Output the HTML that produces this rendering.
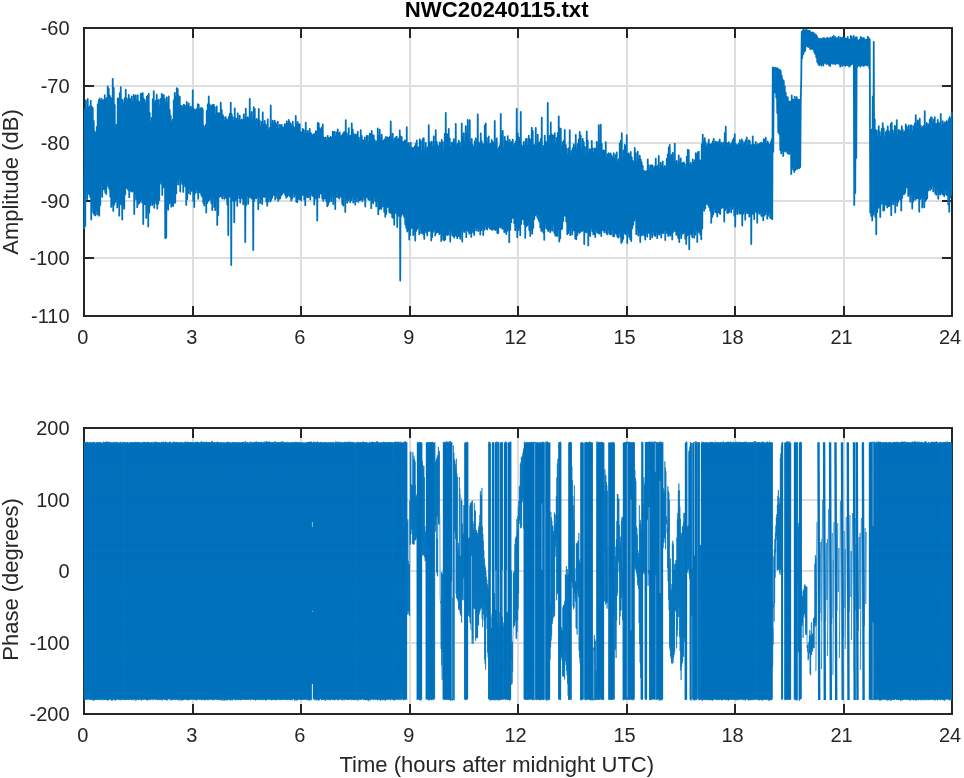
<!DOCTYPE html>
<html><head><meta charset="utf-8"><title>NWC20240115.txt</title>
<style>html,body{margin:0;padding:0;background:#fff}svg{display:block}</style></head>
<body>
<svg width="964" height="778" viewBox="0 0 964 778" font-family="'Liberation Sans', Arial, sans-serif" fill="#262626">
<rect width="964" height="778" fill="#fff"/>
<path d="M193 28V316M301 28V316M410 28V316M518 28V316M627 28V316M735 28V316M844 28V316M84 86H952M84 143H952M84 201H952M84 258H952" stroke="#dedede" stroke-width="2" fill="none"/>
<path d="M84 28H952V316H84ZM193 316v-10M193 28v10M301 316v-10M301 28v10M410 316v-10M410 28v10M518 316v-10M518 28v10M627 316v-10M627 28v10M735 316v-10M735 28v10M844 316v-10M844 28v10M84 86h10M952 86h-10M84 143h10M952 143h-10M84 201h10M952 201h-10M84 258h10M952 258h-10" stroke="#262626" stroke-width="2" fill="none"/>
<path d="M84.25 229.0L84.75 109.6L85.25 225.9L85.75 100.3L86.25 190.0L86.75 111.5L87.25 199.0L87.75 98.9L88.25 193.2L88.75 108.3L89.25 194.3L89.75 106.5L90.25 197.1L90.75 100.7L91.25 219.5L91.75 106.6L92.25 207.3L92.75 107.8L93.25 212.6L93.75 121.2L94.25 214.5L94.75 131.7L95.25 215.4L95.75 134.3L96.25 210.5L96.75 126.9L97.25 214.6L97.75 104.4L98.25 214.2L98.75 100.2L99.25 215.7L99.75 98.5L100.25 205.0L100.75 101.6L101.25 182.2L101.75 99.0L102.25 196.8L102.75 100.8L103.25 189.2L103.75 100.2L104.25 189.0L104.75 95.2L105.25 192.4L105.75 100.1L106.25 194.0L106.75 98.2L107.25 182.6L107.75 86.4L108.25 186.6L108.75 88.7L109.25 188.8L109.75 95.6L110.25 196.6L110.75 97.7L111.25 206.9L111.75 100.1L112.25 203.6L112.75 78.8L113.25 210.9L113.75 87.9L114.25 204.7L114.75 104.9L115.25 202.1L115.75 129.4L116.25 199.2L116.75 124.4L117.25 207.4L117.75 98.5L118.25 203.4L118.75 98.9L119.25 215.7L119.75 93.2L120.25 203.2L120.75 87.1L121.25 204.5L121.75 99.6L122.25 219.5L122.75 100.2L123.25 206.7L123.75 104.2L124.25 208.7L124.75 98.2L125.25 194.4L125.75 89.6L126.25 187.0L126.75 98.6L127.25 188.3L127.75 101.6L128.25 190.1L128.75 94.9L129.25 197.2L129.75 99.2L130.25 189.9L130.75 99.2L131.25 191.3L131.75 96.3L132.25 191.6L132.75 102.4L133.25 190.2L133.75 95.0L134.25 214.0L134.75 97.1L135.25 193.1L135.75 95.5L136.25 199.7L136.75 101.7L137.25 207.2L137.75 95.1L138.25 204.1L138.75 101.6L139.25 203.1L139.75 102.9L140.25 201.7L140.75 93.8L141.25 199.3L141.75 93.6L142.25 202.7L142.75 93.1L143.25 224.0L143.75 98.7L144.25 204.2L144.75 100.4L145.25 204.1L145.75 104.7L146.25 217.9L146.75 96.7L147.25 209.3L147.75 95.8L148.25 226.6L148.75 93.7L149.25 212.7L149.75 113.2L150.25 205.4L150.75 122.0L151.25 201.8L151.75 118.0L152.25 205.0L152.75 99.4L153.25 202.3L153.75 91.1L154.25 207.8L154.75 103.8L155.25 200.2L155.75 100.8L156.25 203.5L156.75 94.7L157.25 208.6L157.75 101.3L158.25 203.6L158.75 99.7L159.25 200.0L159.75 106.0L160.25 181.6L160.75 98.8L161.25 183.7L161.75 93.8L162.25 194.9L162.75 96.4L163.25 187.4L163.75 95.0L164.25 184.5L164.75 98.9L165.25 238.0L165.75 102.9L166.25 237.6L166.75 97.5L167.25 206.4L167.75 103.2L168.25 209.7L168.75 96.3L169.25 203.3L169.75 110.2L170.25 202.8L170.75 116.0L171.25 206.7L171.75 123.2L172.25 205.5L172.75 119.8L173.25 205.9L173.75 100.3L174.25 202.6L174.75 92.9L175.25 202.7L175.75 97.6L176.25 193.3L176.75 88.1L177.25 179.6L177.75 89.1L178.25 184.6L178.75 96.1L179.25 177.3L179.75 96.6L180.25 191.6L180.75 106.3L181.25 180.8L181.75 105.8L182.25 183.9L182.75 108.2L183.25 191.9L183.75 104.6L184.25 183.9L184.75 105.5L185.25 186.6L185.75 107.7L186.25 205.0L186.75 102.0L187.25 199.2L187.75 105.8L188.25 193.2L188.75 103.3L189.25 188.4L189.75 108.5L190.25 194.1L190.75 106.7L191.25 190.9L191.75 109.8L192.25 190.6L192.75 90.5L193.25 200.9L193.75 109.4L194.25 207.0L194.75 109.3L195.25 193.0L195.75 111.3L196.25 189.0L196.75 109.2L197.25 192.5L197.75 104.1L198.25 198.8L198.75 105.0L199.25 192.0L199.75 110.6L200.25 192.3L200.75 108.2L201.25 195.1L201.75 107.8L202.25 196.8L202.75 109.3L203.25 202.8L203.75 126.2L204.25 205.4L204.75 128.6L205.25 200.4L205.75 125.0L206.25 212.5L206.75 111.0L207.25 203.0L207.75 104.3L208.25 201.0L208.75 96.3L209.25 199.8L209.75 104.3L210.25 198.6L210.75 106.8L211.25 202.9L211.75 105.7L212.25 210.0L212.75 105.0L213.25 196.6L213.75 104.7L214.25 207.1L214.75 107.3L215.25 210.2L215.75 115.5L216.25 200.1L216.75 106.3L217.25 225.0L217.75 113.3L218.25 215.0L218.75 113.1L219.25 196.9L219.75 113.7L220.25 196.2L220.75 102.6L221.25 196.2L221.75 110.2L222.25 198.4L222.75 114.9L223.25 194.1L223.75 116.9L224.25 198.8L224.75 121.1L225.25 196.4L225.75 117.1L226.25 198.3L226.75 119.6L227.25 204.6L227.75 120.6L228.25 235.0L228.75 117.2L229.25 196.8L229.75 114.0L230.25 196.1L230.75 102.6L231.25 265.0L231.75 114.4L232.25 200.2L232.75 117.3L233.25 200.7L233.75 120.8L234.25 222.3L234.75 108.3L235.25 200.7L235.75 118.6L236.25 198.8L236.75 119.7L237.25 205.8L237.75 113.5L238.25 194.1L238.75 121.6L239.25 198.0L239.75 115.7L240.25 202.6L240.75 121.1L241.25 196.7L241.75 119.4L242.25 198.6L242.75 121.0L243.25 204.3L243.75 114.4L244.25 198.4L244.75 119.8L245.25 242.0L245.75 108.6L246.25 205.1L246.75 117.9L247.25 195.2L247.75 117.2L248.25 203.8L248.75 119.1L249.25 197.3L249.75 98.8L250.25 196.2L250.75 120.5L251.25 198.5L251.75 112.0L252.25 198.3L252.75 122.4L253.25 250.0L253.75 107.1L254.25 200.9L254.75 108.8L255.25 197.6L255.75 121.4L256.25 198.4L256.75 118.9L257.25 196.2L257.75 121.4L258.25 209.2L258.75 108.8L259.25 196.7L259.75 120.7L260.25 203.1L260.75 126.9L261.25 199.2L261.75 121.9L262.25 204.1L262.75 112.5L263.25 196.4L263.75 124.9L264.25 196.9L264.75 120.9L265.25 196.5L265.75 124.7L266.25 201.6L266.75 127.3L267.25 205.8L267.75 119.3L268.25 201.5L268.75 131.4L269.25 197.1L269.75 128.0L270.25 201.5L270.75 105.4L271.25 199.9L271.75 127.6L272.25 197.7L272.75 120.6L273.25 194.7L273.75 123.7L274.25 195.2L274.75 120.7L275.25 199.5L275.75 123.2L276.25 194.8L276.75 125.6L277.25 197.9L277.75 121.6L278.25 200.9L278.75 129.7L279.25 198.8L279.75 125.0L280.25 198.4L280.75 125.7L281.25 195.3L281.75 124.8L282.25 193.9L282.75 128.0L283.25 192.5L283.75 127.1L284.25 192.7L284.75 124.1L285.25 195.0L285.75 125.7L286.25 197.7L286.75 121.4L287.25 196.6L287.75 123.8L288.25 194.7L288.75 120.0L289.25 195.5L289.75 122.4L290.25 196.8L290.75 123.9L291.25 200.5L291.75 126.7L292.25 198.6L292.75 121.7L293.25 192.5L293.75 127.1L294.25 196.9L294.75 129.1L295.25 194.4L295.75 116.0L296.25 201.5L296.75 124.7L297.25 202.2L297.75 122.0L298.25 197.5L298.75 124.8L299.25 199.4L299.75 124.2L300.25 198.8L300.75 132.4L301.25 200.6L301.75 132.4L302.25 195.1L302.75 128.9L303.25 194.6L303.75 130.1L304.25 199.4L304.75 133.8L305.25 205.2L305.75 122.7L306.25 194.6L306.75 134.0L307.25 197.4L307.75 130.9L308.25 197.2L308.75 134.2L309.25 195.7L309.75 128.8L310.25 199.4L310.75 133.1L311.25 193.5L311.75 134.5L312.25 195.6L312.75 135.9L313.25 196.1L313.75 134.2L314.25 204.6L314.75 134.1L315.25 198.4L315.75 131.1L316.25 198.7L316.75 131.9L317.25 220.7L317.75 123.0L318.25 194.3L318.75 123.3L319.25 197.5L319.75 128.3L320.25 193.1L320.75 130.0L321.25 193.7L321.75 127.4L322.25 198.6L322.75 124.5L323.25 200.8L323.75 137.6L324.25 198.5L324.75 137.8L325.25 198.3L325.75 137.4L326.25 201.1L326.75 141.2L327.25 206.3L327.75 136.0L328.25 204.7L328.75 138.4L329.25 201.8L329.75 137.8L330.25 197.8L330.75 137.0L331.25 201.2L331.75 138.4L332.25 196.2L332.75 131.6L333.25 204.1L333.75 132.1L334.25 196.7L334.75 132.0L335.25 209.0L335.75 137.3L336.25 197.0L336.75 132.5L337.25 196.7L337.75 129.5L338.25 197.3L338.75 134.4L339.25 198.6L339.75 132.5L340.25 196.3L340.75 136.9L341.25 196.9L341.75 135.6L342.25 203.9L342.75 134.1L343.25 205.5L343.75 132.5L344.25 196.0L344.75 132.2L345.25 212.0L345.75 120.1L346.25 198.4L346.75 133.5L347.25 202.8L347.75 137.3L348.25 200.6L348.75 128.2L349.25 198.4L349.75 136.4L350.25 202.3L350.75 136.0L351.25 200.2L351.75 123.4L352.25 196.9L352.75 129.7L353.25 202.5L353.75 133.9L354.25 199.1L354.75 135.8L355.25 204.5L355.75 134.3L356.25 201.0L356.75 136.4L357.25 196.6L357.75 131.7L358.25 202.1L358.75 137.6L359.25 200.3L359.75 140.8L360.25 199.9L360.75 130.2L361.25 199.0L361.75 135.8L362.25 201.2L362.75 140.4L363.25 195.7L363.75 140.5L364.25 199.8L364.75 137.3L365.25 206.5L365.75 140.8L366.25 197.5L366.75 135.8L367.25 196.9L367.75 136.0L368.25 199.2L368.75 142.0L369.25 200.1L369.75 133.6L370.25 199.0L370.75 134.0L371.25 208.2L371.75 131.0L372.25 201.7L372.75 135.6L373.25 203.3L373.75 135.3L374.25 196.0L374.75 140.2L375.25 200.9L375.75 142.4L376.25 206.4L376.75 141.5L377.25 201.2L377.75 128.4L378.25 214.3L378.75 136.0L379.25 209.0L379.75 129.7L380.25 208.4L380.75 138.7L381.25 208.9L381.75 134.7L382.25 206.7L382.75 141.6L383.25 206.1L383.75 140.4L384.25 211.9L384.75 139.4L385.25 216.8L385.75 137.1L386.25 214.0L386.75 137.1L387.25 206.4L387.75 137.6L388.25 207.2L388.75 138.3L389.25 212.0L389.75 137.0L390.25 212.7L390.75 121.3L391.25 213.3L391.75 138.1L392.25 217.3L392.75 133.6L393.25 218.1L393.75 142.0L394.25 224.8L394.75 138.7L395.25 212.0L395.75 137.3L396.25 213.3L396.75 136.7L397.25 227.0L397.75 139.9L398.25 215.9L398.75 138.7L399.25 210.4L399.75 130.3L400.25 280.5L400.75 136.5L401.25 215.9L401.75 137.2L402.25 212.8L402.75 142.1L403.25 214.6L403.75 142.4L404.25 217.0L404.75 140.4L405.25 224.4L405.75 141.2L406.25 227.8L406.75 127.2L407.25 231.5L407.75 144.1L408.25 230.0L408.75 143.0L409.25 239.6L409.75 147.7L410.25 234.9L410.75 142.9L411.25 228.1L411.75 147.9L412.25 227.6L412.75 147.8L413.25 235.2L413.75 148.1L414.25 232.1L414.75 146.5L415.25 240.6L415.75 143.8L416.25 230.8L416.75 140.4L417.25 228.8L417.75 147.4L418.25 227.1L418.75 147.5L419.25 234.3L419.75 139.2L420.25 228.1L420.75 141.0L421.25 233.0L421.75 150.8L422.25 232.3L422.75 139.1L423.25 234.2L423.75 138.1L424.25 238.9L424.75 150.9L425.25 230.1L425.75 142.9L426.25 232.4L426.75 149.2L427.25 235.4L427.75 147.1L428.25 231.0L428.75 125.1L429.25 230.3L429.75 142.2L430.25 231.1L430.75 142.9L431.25 240.4L431.75 141.7L432.25 237.1L432.75 147.2L433.25 231.7L433.75 136.3L434.25 229.1L434.75 146.0L435.25 235.4L435.75 130.2L436.25 232.8L436.75 142.0L437.25 232.1L437.75 145.5L438.25 231.8L438.75 147.7L439.25 234.0L439.75 142.4L440.25 233.0L440.75 144.2L441.25 241.0L441.75 139.8L442.25 234.8L442.75 142.1L443.25 239.6L443.75 151.4L444.25 240.4L444.75 134.0L445.25 239.6L445.75 113.0L446.25 234.4L446.75 134.1L447.25 235.1L447.75 134.6L448.25 234.7L448.75 128.8L449.25 229.6L449.75 138.6L450.25 241.6L450.75 147.5L451.25 231.7L451.75 142.7L452.25 234.9L452.75 142.7L453.25 236.2L453.75 139.1L454.25 237.5L454.75 143.5L455.25 234.9L455.75 123.8L456.25 235.8L456.75 146.5L457.25 238.2L457.75 143.9L458.25 235.9L458.75 140.6L459.25 236.2L459.75 142.6L460.25 238.8L460.75 148.0L461.25 231.0L461.75 123.3L462.25 241.6L462.75 137.5L463.25 230.1L463.75 133.2L464.25 232.0L464.75 143.5L465.25 229.8L465.75 126.1L466.25 237.2L466.75 133.9L467.25 229.9L467.75 120.0L468.25 230.9L468.75 146.2L469.25 233.7L469.75 120.1L470.25 232.5L470.75 142.9L471.25 236.9L471.75 138.9L472.25 230.6L472.75 145.1L473.25 232.6L473.75 148.1L474.25 235.1L474.75 141.3L475.25 227.4L475.75 138.3L476.25 230.4L476.75 142.8L477.25 227.1L477.75 114.3L478.25 231.1L478.75 142.4L479.25 229.1L479.75 144.2L480.25 234.5L480.75 133.5L481.25 230.3L481.75 141.4L482.25 227.9L482.75 144.5L483.25 235.1L483.75 144.3L484.25 229.9L484.75 125.5L485.25 225.6L485.75 123.5L486.25 228.7L486.75 137.9L487.25 229.6L487.75 144.3L488.25 225.8L488.75 136.4L489.25 227.5L489.75 145.4L490.25 228.8L490.75 143.6L491.25 229.1L491.75 139.9L492.25 229.9L492.75 142.2L493.25 228.8L493.75 143.0L494.25 229.0L494.75 120.9L495.25 230.0L495.75 146.1L496.25 229.2L496.75 138.4L497.25 232.8L497.75 149.8L498.25 233.2L498.75 147.9L499.25 225.4L499.75 145.3L500.25 227.5L500.75 113.9L501.25 226.7L501.75 135.8L502.25 228.8L502.75 130.8L503.25 228.6L503.75 149.2L504.25 232.0L504.75 136.8L505.25 231.6L505.75 141.3L506.25 234.0L506.75 141.7L507.25 230.8L507.75 136.1L508.25 229.7L508.75 143.4L509.25 242.2L509.75 140.0L510.25 229.8L510.75 144.2L511.25 222.2L511.75 142.0L512.25 218.0L512.75 139.6L513.25 217.1L513.75 146.0L514.25 223.0L514.75 143.9L515.25 230.3L515.75 141.5L516.25 226.8L516.75 108.8L517.25 237.3L517.75 133.3L518.25 230.2L518.75 137.4L519.25 227.3L519.75 139.0L520.25 235.2L520.75 112.0L521.25 223.9L521.75 145.2L522.25 219.4L522.75 147.2L523.25 218.9L523.75 141.9L524.25 224.2L524.75 146.4L525.25 237.8L525.75 139.1L526.25 226.3L526.75 138.8L527.25 225.3L527.75 146.6L528.25 223.9L528.75 135.7L529.25 230.1L529.75 139.1L530.25 236.0L530.75 141.4L531.25 229.8L531.75 127.6L532.25 233.7L532.75 131.2L533.25 227.9L533.75 144.8L534.25 219.0L534.75 145.8L535.25 215.4L535.75 127.8L536.25 214.1L536.75 146.0L537.25 217.2L537.75 134.6L538.25 219.3L538.75 143.2L539.25 221.5L539.75 142.4L540.25 227.5L540.75 139.2L541.25 230.8L541.75 117.6L542.25 230.7L542.75 153.3L543.25 232.6L543.75 145.9L544.25 239.8L544.75 135.6L545.25 223.2L545.75 141.9L546.25 228.3L546.75 143.6L547.25 229.0L547.75 103.0L548.25 231.1L548.75 144.0L549.25 229.9L549.75 135.8L550.25 232.2L550.75 122.4L551.25 228.7L551.75 134.5L552.25 230.7L552.75 135.9L553.25 224.9L553.75 135.6L554.25 232.8L554.75 133.1L555.25 235.6L555.75 143.9L556.25 235.5L556.75 137.8L557.25 235.9L557.75 133.2L558.25 229.0L558.75 116.3L559.25 241.6L559.75 128.4L560.25 238.3L560.75 128.6L561.25 229.3L561.75 147.4L562.25 228.5L562.75 142.2L563.25 221.2L563.75 140.9L564.25 215.6L564.75 130.0L565.25 215.5L565.75 144.8L566.25 221.4L566.75 148.6L567.25 234.3L567.75 155.2L568.25 233.0L568.75 148.3L569.25 230.2L569.75 130.1L570.25 235.2L570.75 155.3L571.25 227.2L571.75 150.7L572.25 234.4L572.75 148.2L573.25 230.3L573.75 144.5L574.25 230.3L574.75 147.4L575.25 238.5L575.75 134.9L576.25 239.3L576.75 150.2L577.25 235.2L577.75 144.2L578.25 231.0L578.75 139.3L579.25 232.9L579.75 131.9L580.25 232.0L580.75 135.7L581.25 230.0L581.75 151.9L582.25 231.1L582.75 139.0L583.25 229.3L583.75 142.2L584.25 244.1L584.75 147.0L585.25 231.2L585.75 155.7L586.25 232.4L586.75 131.4L587.25 231.3L587.75 140.6L588.25 245.4L588.75 153.5L589.25 233.9L589.75 149.1L590.25 236.0L590.75 150.1L591.25 228.2L591.75 140.9L592.25 231.1L592.75 148.5L593.25 234.3L593.75 153.7L594.25 234.1L594.75 148.4L595.25 237.1L595.75 149.1L596.25 229.9L596.75 141.9L597.25 232.5L597.75 149.4L598.25 232.8L598.75 125.1L599.25 233.7L599.75 146.4L600.25 232.4L600.75 124.6L601.25 235.9L601.75 143.8L602.25 230.3L602.75 150.8L603.25 229.7L603.75 150.3L604.25 232.2L604.75 151.2L605.25 230.2L605.75 142.1L606.25 232.9L606.75 158.3L607.25 234.4L607.75 154.2L608.25 230.2L608.75 153.1L609.25 233.5L609.75 155.4L610.25 234.3L610.75 153.4L611.25 234.4L611.75 155.9L612.25 229.3L612.75 157.8L613.25 236.6L613.75 153.1L614.25 236.0L614.75 159.1L615.25 232.3L615.75 154.8L616.25 233.7L616.75 152.4L617.25 236.3L617.75 162.5L618.25 237.7L618.75 159.3L619.25 232.0L619.75 143.5L620.25 236.8L620.75 141.0L621.25 242.9L621.75 133.2L622.25 241.5L622.75 164.8L623.25 238.8L623.75 150.3L624.25 233.2L624.75 145.0L625.25 233.5L625.75 147.3L626.25 234.7L626.75 135.2L627.25 243.0L627.75 154.2L628.25 232.4L628.75 153.4L629.25 236.8L629.75 156.1L630.25 239.0L630.75 152.0L631.25 241.0L631.75 157.3L632.25 228.2L632.75 161.0L633.25 224.8L633.75 163.3L634.25 220.5L634.75 148.0L635.25 217.4L635.75 153.2L636.25 234.2L636.75 161.8L637.25 229.6L637.75 151.6L638.25 235.5L638.75 160.2L639.25 231.9L639.75 155.7L640.25 242.1L640.75 159.5L641.25 235.3L641.75 162.4L642.25 234.9L642.75 166.0L643.25 233.3L643.75 170.9L644.25 235.5L644.75 171.3L645.25 239.6L645.75 171.5L646.25 231.5L646.75 171.1L647.25 236.6L647.75 159.3L648.25 232.3L648.75 165.3L649.25 233.0L649.75 170.5L650.25 239.3L650.75 165.3L651.25 231.4L651.75 165.1L652.25 237.3L652.75 165.8L653.25 231.1L653.75 169.5L654.25 235.1L654.75 166.7L655.25 236.1L655.75 158.6L656.25 232.1L656.75 167.4L657.25 238.2L657.75 165.9L658.25 232.8L658.75 155.9L659.25 234.7L659.75 169.4L660.25 232.9L660.75 162.7L661.25 237.5L661.75 166.4L662.25 232.9L662.75 161.5L663.25 233.0L663.75 168.1L664.25 229.6L664.75 165.8L665.25 240.1L665.75 168.1L666.25 230.3L666.75 158.8L667.25 233.3L667.75 154.4L668.25 236.0L668.75 147.7L669.25 233.4L669.75 144.9L670.25 235.5L670.75 157.2L671.25 233.6L671.75 155.0L672.25 239.4L672.75 152.8L673.25 231.9L673.75 163.6L674.25 229.7L674.75 143.6L675.25 231.2L675.75 162.2L676.25 234.7L676.75 160.9L677.25 235.3L677.75 164.9L678.25 238.2L678.75 155.5L679.25 242.0L679.75 162.9L680.25 233.7L680.75 158.3L681.25 238.0L681.75 164.4L682.25 233.7L682.75 162.8L683.25 233.4L683.75 162.5L684.25 231.4L684.75 164.2L685.25 238.8L685.75 167.9L686.25 244.1L686.75 156.9L687.25 235.6L687.75 150.0L688.25 234.4L688.75 150.2L689.25 249.3L689.75 165.3L690.25 232.3L690.75 163.0L691.25 234.6L691.75 166.7L692.25 237.2L692.75 159.3L693.25 231.7L693.75 162.8L694.25 237.7L694.75 160.5L695.25 234.6L695.75 153.1L696.25 230.6L696.75 154.9L697.25 241.9L697.75 152.4L698.25 232.1L698.75 151.6L699.25 231.9L699.75 160.3L700.25 234.5L700.75 161.4L701.25 239.3L701.75 144.1L702.25 228.4L702.75 134.6L703.25 206.9L703.75 141.8L704.25 210.7L704.75 138.1L705.25 208.2L705.75 142.5L706.25 204.1L706.75 147.5L707.25 202.7L707.75 144.2L708.25 205.3L708.75 139.7L709.25 207.4L709.75 144.7L710.25 210.9L710.75 144.4L711.25 222.8L711.75 143.8L712.25 216.9L712.75 141.4L713.25 214.3L713.75 138.8L714.25 208.3L714.75 144.4L715.25 212.1L715.75 141.6L716.25 212.6L716.75 142.2L717.25 216.6L717.75 142.9L718.25 211.9L718.75 141.9L719.25 212.8L719.75 139.4L720.25 213.9L720.75 144.6L721.25 208.1L721.75 142.6L722.25 207.7L722.75 145.8L723.25 207.2L723.75 142.6L724.25 221.6L724.75 133.1L725.25 210.0L725.75 126.7L726.25 207.7L726.75 143.0L727.25 212.9L727.75 144.3L728.25 212.8L728.75 142.2L729.25 211.8L729.75 143.8L730.25 206.5L730.75 145.9L731.25 212.4L731.75 142.8L732.25 209.0L732.75 140.1L733.25 206.2L733.75 138.4L734.25 215.7L734.75 134.1L735.25 226.6L735.75 144.0L736.25 208.4L736.75 144.9L737.25 214.0L737.75 146.2L738.25 208.2L738.75 143.7L739.25 213.3L739.75 140.2L740.25 213.7L740.75 145.2L741.25 213.4L741.75 139.5L742.25 225.6L742.75 141.5L743.25 213.8L743.75 145.6L744.25 209.8L744.75 142.3L745.25 219.8L745.75 140.2L746.25 211.1L746.75 137.5L747.25 213.2L747.75 146.0L748.25 212.3L748.75 140.3L749.25 216.5L749.75 141.0L750.25 209.0L750.75 145.5L751.25 244.1L751.75 145.1L752.25 212.5L752.75 136.5L753.25 214.0L753.75 144.7L754.25 219.2L754.75 145.3L755.25 211.5L755.75 141.9L756.25 211.9L756.75 146.6L757.25 222.8L757.75 144.0L758.25 210.7L758.75 144.9L759.25 213.7L759.75 143.6L760.25 212.6L760.75 143.0L761.25 215.8L761.75 142.7L762.25 215.9L762.75 144.3L763.25 220.3L763.75 139.2L764.25 215.5L764.75 140.2L765.25 214.3L765.75 137.7L766.25 211.4L766.75 144.0L767.25 218.7L767.75 141.5L768.25 215.8L768.75 144.1L769.25 212.2L769.75 145.1L770.25 218.1L770.75 142.1L771.25 218.2L771.75 139.1L772.25 219.3L772.75 67.3L773.25 151.7L773.75 67.9L774.25 91.8L774.75 68.2L775.25 92.4L775.75 67.8L776.25 97.6L776.75 68.5L777.25 113.0L777.75 68.5L778.25 132.2L778.75 70.5L779.25 134.1L779.75 69.6L780.25 150.1L780.75 71.1L781.25 153.4L781.75 75.6L782.25 150.5L782.75 79.7L783.25 155.9L783.75 81.0L784.25 150.5L784.75 86.3L785.25 151.6L785.75 92.9L786.25 150.4L786.75 96.9L787.25 152.7L787.75 97.3L788.25 153.8L788.75 101.7L789.25 153.8L789.75 101.7L790.25 149.8L790.75 101.6L791.25 174.1L791.75 95.5L792.25 167.3L792.75 99.6L793.25 169.7L793.75 99.8L794.25 172.1L794.75 96.6L795.25 170.2L795.75 99.8L796.25 168.7L796.75 97.2L797.25 168.9L797.75 99.6L798.25 167.0L798.75 100.1L799.25 168.3L799.75 99.6L800.25 167.0L800.75 100.2L801.25 79.4L801.75 32.0L802.25 58.1L802.75 30.4L803.25 54.2L803.75 30.0L804.25 51.8L804.75 30.5L805.25 50.5L805.75 30.1L806.25 45.8L806.75 29.8L807.25 46.0L807.75 30.9L808.25 47.0L808.75 30.6L809.25 46.7L809.75 30.8L810.25 49.2L810.75 32.4L811.25 48.6L811.75 32.8L812.25 48.8L812.75 32.4L813.25 49.4L813.75 33.2L814.25 52.1L814.75 34.6L815.25 53.9L815.75 34.5L816.25 57.3L816.75 35.9L817.25 61.9L817.75 38.1L818.25 63.9L818.75 38.8L819.25 65.3L819.75 39.6L820.25 63.0L820.75 38.7L821.25 65.6L821.75 39.6L822.25 63.8L822.75 38.4L823.25 65.5L823.75 38.2L824.25 63.1L824.75 38.3L825.25 62.6L825.75 39.8L826.25 63.9L826.75 38.2L827.25 63.3L827.75 37.8L828.25 64.1L828.75 39.5L829.25 65.4L829.75 38.3L830.25 65.9L830.75 37.5L831.25 62.9L831.75 39.4L832.25 63.5L832.75 36.8L833.25 63.7L833.75 35.8L834.25 63.3L834.75 38.0L835.25 64.2L835.75 37.2L836.25 62.8L836.75 39.2L837.25 63.4L837.75 38.2L838.25 62.9L838.75 36.7L839.25 64.2L839.75 40.0L840.25 66.7L840.75 37.6L841.25 63.3L841.75 39.4L842.25 66.1L842.75 37.7L843.25 63.9L843.75 38.3L844.25 65.2L844.75 37.7L845.25 65.8L845.75 39.0L846.25 64.7L846.75 38.9L847.25 65.2L847.75 36.8L848.25 64.8L848.75 40.0L849.25 66.7L849.75 39.7L850.25 65.5L850.75 35.9L851.25 64.3L851.75 37.0L852.25 63.9L852.75 39.7L853.25 63.5L853.75 35.9L854.25 205.0L854.75 39.4L855.25 193.0L855.75 37.3L856.25 158.0L856.75 37.2L857.25 66.7L857.75 40.5L858.25 65.7L858.75 40.7L859.25 65.2L859.75 39.4L860.25 66.5L860.75 37.0L861.25 65.3L861.75 38.1L862.25 64.9L862.75 39.4L863.25 65.9L863.75 37.8L864.25 65.6L864.75 39.6L865.25 64.5L865.75 39.6L866.25 64.9L866.75 40.0L867.25 65.6L867.75 36.7L868.25 64.7L868.75 38.2L869.25 68.0L869.75 39.5L870.25 212.5L870.75 133.6L871.25 216.1L871.75 129.5L872.25 220.4L872.75 96.3L873.25 214.8L873.75 41.8L874.25 211.6L874.75 119.4L875.25 216.9L875.75 130.4L876.25 234.3L876.75 130.5L877.25 212.1L877.75 137.4L878.25 207.8L878.75 126.2L879.25 206.4L879.75 131.8L880.25 217.1L880.75 137.4L881.25 203.8L881.75 128.9L882.25 203.1L882.75 123.2L883.25 210.5L883.75 128.4L884.25 210.0L884.75 138.0L885.25 204.6L885.75 132.3L886.25 204.7L886.75 131.0L887.25 207.4L887.75 126.3L888.25 206.0L888.75 131.3L889.25 206.1L889.75 135.0L890.25 203.5L890.75 124.0L891.25 215.2L891.75 122.7L892.25 200.0L892.75 130.6L893.25 204.3L893.75 134.6L894.25 200.0L894.75 125.9L895.25 212.4L895.75 127.3L896.25 200.2L896.75 120.1L897.25 205.8L897.75 135.3L898.25 201.7L898.75 129.8L899.25 198.5L899.75 130.8L900.25 199.5L900.75 132.4L901.25 210.5L901.75 126.2L902.25 197.8L902.75 129.8L903.25 194.1L903.75 132.9L904.25 194.1L904.75 131.3L905.25 192.6L905.75 124.4L906.25 187.4L906.75 126.7L907.25 187.4L907.75 129.9L908.25 195.9L908.75 125.4L909.25 193.7L909.75 130.4L910.25 201.7L910.75 125.3L911.25 193.9L911.75 125.3L912.25 208.6L912.75 132.7L913.25 201.6L913.75 126.3L914.25 196.8L914.75 123.9L915.25 199.7L915.75 115.1L916.25 198.6L916.75 123.8L917.25 198.4L917.75 120.5L918.25 198.1L918.75 122.7L919.25 211.7L919.75 118.7L920.25 199.0L920.75 125.6L921.25 196.9L921.75 129.3L922.25 207.6L922.75 127.0L923.25 197.5L923.75 125.8L924.25 207.3L924.75 111.2L925.25 201.2L925.75 126.9L926.25 199.7L926.75 123.0L927.25 198.3L927.75 124.9L928.25 190.6L928.75 124.4L929.25 186.9L929.75 119.8L930.25 190.0L930.75 117.7L931.25 188.7L931.75 117.4L932.25 185.4L932.75 123.0L933.25 191.4L933.75 119.6L934.25 186.5L934.75 117.2L935.25 193.4L935.75 124.5L936.25 194.8L936.75 123.9L937.25 188.1L937.75 119.9L938.25 198.7L938.75 123.1L939.25 193.4L939.75 123.6L940.25 194.4L940.75 113.8L941.25 191.6L941.75 126.2L942.25 194.0L942.75 121.2L943.25 194.6L943.75 124.9L944.25 196.2L944.75 122.4L945.25 189.9L945.75 122.4L946.25 194.6L946.75 121.2L947.25 195.2L947.75 122.8L948.25 204.4L948.75 119.5L949.25 211.8L949.75 117.2L950.25 197.6L950.75 120.1L951.25 195.1L951.75 111.9" fill="none" stroke="#0072bd" stroke-width="1.8" stroke-linejoin="round"/>
<text x="82.8" y="344.3" font-size="20" text-anchor="middle">0</text>
<text x="191.8" y="344.3" font-size="20" text-anchor="middle">3</text>
<text x="299.8" y="344.3" font-size="20" text-anchor="middle">6</text>
<text x="408.8" y="344.3" font-size="20" text-anchor="middle">9</text>
<text x="515.6" y="344.3" font-size="20" text-anchor="middle">12</text>
<text x="624.6" y="344.3" font-size="20" text-anchor="middle">15</text>
<text x="732.6" y="344.3" font-size="20" text-anchor="middle">18</text>
<text x="841.6" y="344.3" font-size="20" text-anchor="middle">21</text>
<text x="950.1" y="344.3" font-size="20" text-anchor="middle">24</text>
<text x="69.6" y="34.9" font-size="20" text-anchor="end">-60</text>
<text x="69.6" y="92.9" font-size="20" text-anchor="end">-70</text>
<text x="69.6" y="149.9" font-size="20" text-anchor="end">-80</text>
<text x="69.6" y="207.9" font-size="20" text-anchor="end">-90</text>
<text x="69.6" y="264.9" font-size="20" text-anchor="end">-100</text>
<text x="69.6" y="322.9" font-size="20" text-anchor="end">-110</text>
<path d="M193 428V714M301 428V714M410 428V714M518 428V714M627 428V714M735 428V714M844 428V714M84 500H952M84 571H952M84 643H952" stroke="#dedede" stroke-width="2" fill="none"/>
<path d="M84 428H952V714H84ZM193 714v-10M193 428v10M301 714v-10M301 428v10M410 714v-10M410 428v10M518 714v-10M518 428v10M627 714v-10M627 428v10M735 714v-10M735 428v10M844 714v-10M844 428v10M84 500h10M952 500h-10M84 571h10M952 571h-10M84 643h10M952 643h-10" stroke="#262626" stroke-width="2" fill="none"/>
<path d="M819.2 700L818.5 442.3M824.8 700L824.1 442.3M830.8 700L830.1 442.3M836.2 700L835.5 442.3M842.7 700L842.0 442.3M848.5 700L847.8 442.3M854.7 700L854.0 442.3M857.5 700L856.8 442.3M863.6 700L862.9 442.3" fill="none" stroke="#0072bd" stroke-width="2.4"/><path d="M815.9 671L817.0 522M820.0 613L820.7 542M821.4 621L821.8 539M821.5 669L822.6 500M825.6 621L826.3 543M827.0 600L827.4 539M827.5 656L828.6 509M831.6 624L832.3 533M833.0 618L833.4 560M832.9 675L834.0 522M837.0 611L837.7 523M838.4 592L838.8 548M839.4 658L840.5 501M843.5 637L844.2 531M844.9 608L845.3 549M845.2 649L846.3 517M849.3 612L850.0 515M850.7 597L851.1 551M851.4 640L852.5 513M855.5 610L856.2 544M856.9 621L857.3 538M854.2 670L855.3 518M858.3 631L859.0 537M859.7 609L860.1 533M860.3 670L861.4 518M864.4 626L865.1 528M865.8 604L866.2 532" fill="none" stroke="#0072bd" stroke-width="1.1" stroke-opacity="0.75"/><path d="M84.15 443.4H123.85V698.6H84.15ZM124.65 443.4H354.85V698.6H124.65ZM355.65 443.4H392.85V698.6H355.65ZM393.65 443.4H406.85V698.6H393.65ZM417.15 443.4H421.85V698.6H417.15ZM426.15 443.4H433.85V698.6H426.15ZM443.15 443.4H451.85V698.6H443.15ZM464.65 443.4H467.85V698.6H464.65ZM488.65 443.4H490.35V698.6H488.65ZM492.15 443.4H493.85V698.6H492.15ZM495.15 443.4H496.85V698.6H495.15ZM497.65 443.4H498.85V698.6H497.65ZM500.15 443.4H502.35V698.6H500.15ZM504.15 443.4H506.85V698.6H504.15ZM508.15 443.4H510.85V698.6H508.15ZM524.15 443.4H544.35V698.6H524.15ZM545.65 443.4H549.85V698.6H545.65ZM558.65 443.4H560.85V698.6H558.65ZM568.65 443.4H571.35V698.6H568.65ZM580.65 443.4H583.35V698.6H580.65ZM584.65 443.4H587.85V698.6H584.65ZM588.65 443.4H592.35V698.6H588.65ZM596.65 443.4H603.85V698.6H596.65ZM608.65 443.4H614.35V698.6H608.65ZM623.15 443.4H634.35V698.6H623.15ZM641.65 443.4H642.85V698.6H641.65ZM645.15 443.4H646.85V698.6H645.15ZM649.65 443.4H655.35V698.6H649.65ZM656.65 443.4H662.85V698.6H656.65ZM685.15 443.4H686.85V698.6H685.15ZM690.15 443.4H691.35V698.6H690.15ZM692.65 443.4H697.35V698.6H692.65ZM698.15 443.4H699.35V698.6H698.15ZM701.15 443.4H755.85V698.6H701.15ZM756.65 443.4H772.35V698.6H756.65ZM781.65 443.4H782.85V698.6H781.65ZM784.65 443.4H790.85V698.6H784.65ZM794.15 443.4H797.35V698.6H794.15ZM799.15 443.4H801.35V698.6H799.15ZM869.15 443.4H941.85V698.6H869.15ZM942.65 443.4H951.85V698.6H942.65Z" fill="#0072bd"/><path d="M84.12 699.8L84.37 442.3L84.62 700.3L84.87 442.9L85.12 699.4L85.37 442.7L85.62 699.7L85.87 442.0L86.12 699.8L86.37 443.0L86.62 699.6L86.87 441.7L87.12 699.5L87.37 442.0L87.62 699.2L87.87 442.3L88.12 699.6L88.37 442.5L88.62 699.3L88.87 443.1L89.12 699.4L89.37 442.0L89.62 699.3L89.87 442.2L90.12 700.0L90.37 442.5L90.62 699.4L90.87 442.5L91.12 699.6L91.37 442.5L91.62 699.6L91.87 442.6L92.12 700.0L92.37 443.1L92.62 699.1L92.87 441.8L93.12 700.6L93.37 442.2L93.62 700.4L93.87 442.3L94.12 699.5L94.37 442.9L94.62 700.2L94.87 441.9L95.12 699.7L95.37 443.5L95.62 699.6L95.87 442.9L96.12 700.0L96.37 442.9L96.62 699.8L96.87 442.2L97.12 699.2L97.37 442.1L97.62 700.0L97.87 442.5L98.12 699.5L98.37 442.5L98.62 699.7L98.87 442.4L99.12 699.4L99.37 442.3L99.62 700.2L99.87 442.0L100.12 700.1L100.37 442.0L100.62 698.9L100.87 442.9L101.12 699.9L101.37 442.7L101.62 699.0L101.87 442.6L102.12 700.2L102.37 442.9L102.62 699.6L102.87 443.5L103.12 700.2L103.37 441.6L103.62 699.1L103.87 442.6L104.12 699.5L104.37 442.2L104.62 699.8L104.87 442.3L105.12 699.6L105.37 442.3L105.62 699.7L105.87 442.2L106.12 699.8L106.37 441.5L106.62 699.8L106.87 442.7L107.12 699.8L107.37 441.7L107.62 700.5L107.87 442.0L108.12 700.3L108.37 442.3L108.62 700.0L108.87 442.5L109.12 700.1L109.37 441.8L109.62 699.3L109.87 442.4L110.12 699.2L110.37 442.4L110.62 699.6L110.87 442.4L111.12 699.1L111.37 442.3L111.62 700.6L111.87 443.2L112.12 700.6L112.37 442.7L112.62 699.5L112.87 442.4L113.12 700.1L113.37 442.1L113.62 699.0L113.87 442.3L114.12 700.3L114.37 441.8L114.62 699.2L114.87 443.2L115.12 700.0L115.37 442.6L115.62 700.5L115.87 442.7L116.12 699.4L116.37 441.8L116.62 699.9L116.87 442.5L117.12 699.5L117.37 442.1L117.62 698.5L117.87 442.5L118.12 699.5L118.37 443.0L118.62 699.5L118.87 442.5L119.12 700.1L119.37 442.6L119.62 699.5L119.87 442.9L120.12 700.0L120.37 441.7L120.62 699.1L120.87 442.4L121.12 700.3L121.37 442.9L121.62 700.1L121.87 442.9L122.12 699.1L122.37 441.9L122.62 699.5L122.87 442.3L123.12 700.0L123.37 442.3L123.62 699.6L123.87 442.1L124.12 699.7L124.37 443.6L124.62 699.9L124.87 441.9L125.12 700.1L125.37 442.3L125.62 699.8L125.87 443.2L126.12 699.7L126.37 443.0L126.62 699.8L126.87 442.0L127.12 699.6L127.37 442.2L127.62 699.5L127.87 442.1L128.12 699.6L128.37 442.9L128.62 699.8L128.87 442.9L129.12 700.0L129.37 442.9L129.62 699.7L129.87 442.5L130.12 699.1L130.37 442.1L130.62 699.4L130.87 442.1L131.12 699.7L131.37 442.4L131.62 700.1L131.87 443.0L132.12 699.3L132.37 442.2L132.62 699.9L132.87 442.3L133.12 699.9L133.37 442.6L133.62 700.1L133.87 442.3L134.12 699.1L134.37 442.4L134.62 699.0L134.87 441.8L135.12 700.5L135.37 442.3L135.62 700.3L135.87 442.8L136.12 700.0L136.37 442.1L136.62 699.7L136.87 442.2L137.12 700.3L137.37 442.5L137.62 699.1L137.87 441.9L138.12 700.0L138.37 442.0L138.62 699.8L138.87 442.8L139.12 700.0L139.37 442.2L139.62 699.1L139.87 442.9L140.12 699.6L140.37 442.2L140.62 699.6L140.87 442.2L141.12 700.2L141.37 442.8L141.62 700.5L141.87 442.9L142.12 699.0L142.37 442.5L142.62 699.3L142.87 442.0L143.12 700.1L143.37 442.7L143.62 700.0L143.87 441.8L144.12 699.5L144.37 442.3L144.62 698.8L144.87 442.3L145.12 699.5L145.37 442.0L145.62 700.0L145.87 442.2L146.12 699.4L146.37 442.8L146.62 700.2L146.87 442.5L147.12 699.6L147.37 442.0L147.62 700.6L147.87 441.8L148.12 699.9L148.37 442.0L148.62 699.1L148.87 442.1L149.12 699.7L149.37 443.0L149.62 699.8L149.87 442.4L150.12 700.1L150.37 442.8L150.62 699.8L150.87 442.4L151.12 698.8L151.37 442.0L151.62 699.5L151.87 442.8L152.12 698.9L152.37 443.2L152.62 699.3L152.87 441.8L153.12 700.3L153.37 442.7L153.62 699.6L153.87 442.5L154.12 699.0L154.37 442.0L154.62 698.9L154.87 442.6L155.12 699.8L155.37 441.7L155.62 699.9L155.87 441.8L156.12 699.4L156.37 442.3L156.62 699.4L156.87 442.0L157.12 699.8L157.37 442.4L157.62 700.1L157.87 442.8L158.12 699.2L158.37 442.4L158.62 700.1L158.87 442.0L159.12 699.2L159.37 442.9L159.62 699.6L159.87 442.5L160.12 700.1L160.37 443.2L160.62 699.8L160.87 442.2L161.12 699.8L161.37 442.4L161.62 698.9L161.87 441.9L162.12 700.7L162.37 442.0L162.62 699.6L162.87 442.8L163.12 699.1L163.37 441.7L163.62 699.8L163.87 442.4L164.12 698.9L164.37 442.8L164.62 699.9L164.87 442.4L165.12 699.4L165.37 441.8L165.62 699.8L165.87 441.6L166.12 699.9L166.37 442.4L166.62 700.5L166.87 442.4L167.12 699.0L167.37 442.5L167.62 700.3L167.87 442.7L168.12 699.6L168.37 442.6L168.62 698.5L168.87 442.4L169.12 698.5L169.37 442.5L169.62 698.9L169.87 441.5L170.12 700.4L170.37 442.1L170.62 699.4L170.87 443.0L171.12 699.4L171.37 442.5L171.62 700.2L171.87 442.7L172.12 700.1L172.37 443.5L172.62 699.7L172.87 442.4L173.12 699.6L173.37 441.5L173.62 699.7L173.87 442.1L174.12 699.2L174.37 442.6L174.62 699.4L174.87 441.9L175.12 699.5L175.37 442.3L175.62 700.1L175.87 442.7L176.12 699.9L176.37 442.3L176.62 699.2L176.87 441.9L177.12 699.9L177.37 442.3L177.62 699.4L177.87 442.4L178.12 699.5L178.37 442.3L178.62 700.4L178.87 443.1L179.12 699.5L179.37 442.6L179.62 699.6L179.87 442.2L180.12 700.3L180.37 442.3L180.62 698.7L180.87 441.9L181.12 700.4L181.37 442.9L181.62 700.2L181.87 441.9L182.12 700.0L182.37 443.1L182.62 700.3L182.87 442.4L183.12 699.8L183.37 442.6L183.62 700.1L183.87 442.9L184.12 699.5L184.37 442.6L184.62 698.9L184.87 442.2L185.12 699.9L185.37 441.5L185.62 699.7L185.87 442.3L186.12 699.5L186.37 442.3L186.62 699.5L186.87 442.2L187.12 699.5L187.37 442.0L187.62 700.4L187.87 441.6L188.12 699.8L188.37 442.1L188.62 700.1L188.87 442.9L189.12 700.0L189.37 442.2L189.62 700.0L189.87 442.4L190.12 699.6L190.37 442.4L190.62 699.3L190.87 442.1L191.12 699.5L191.37 442.2L191.62 699.5L191.87 442.2L192.12 699.4L192.37 442.4L192.62 699.4L192.87 442.0L193.12 699.8L193.37 443.1L193.62 699.3L193.87 442.1L194.12 698.9L194.37 443.0L194.62 699.7L194.87 442.4L195.12 700.1L195.37 441.7L195.62 700.1L195.87 442.0L196.12 700.0L196.37 442.6L196.62 700.0L196.87 442.1L197.12 700.4L197.37 441.7L197.62 699.7L197.87 442.0L198.12 699.2L198.37 442.2L198.62 699.0L198.87 442.8L199.12 699.8L199.37 442.5L199.62 699.8L199.87 442.7L200.12 699.6L200.37 442.4L200.62 699.3L200.87 442.6L201.12 699.6L201.37 441.1L201.62 700.2L201.87 442.2L202.12 699.5L202.37 442.3L202.62 699.6L202.87 441.8L203.12 699.7L203.37 442.8L203.62 699.8L203.87 441.8L204.12 700.2L204.37 442.1L204.62 699.3L204.87 442.4L205.12 700.3L205.37 442.4L205.62 699.2L205.87 441.9L206.12 699.9L206.37 441.7L206.62 699.5L206.87 442.8L207.12 699.5L207.37 442.2L207.62 699.7L207.87 442.5L208.12 700.3L208.37 442.4L208.62 699.6L208.87 441.9L209.12 699.4L209.37 442.0L209.62 699.5L209.87 442.2L210.12 698.7L210.37 442.8L210.62 700.0L210.87 442.4L211.12 699.6L211.37 442.0L211.62 699.3L211.87 440.9L212.12 699.8L212.37 441.4L212.62 700.2L212.87 442.9L213.12 700.0L213.37 442.8L213.62 699.1L213.87 441.9L214.12 700.2L214.37 442.0L214.62 699.5L214.87 442.0L215.12 699.8L215.37 442.9L215.62 699.1L215.87 442.6L216.12 699.0L216.37 442.1L216.62 699.8L216.87 443.0L217.12 700.2L217.37 441.6L217.62 699.4L217.87 442.2L218.12 699.9L218.37 442.0L218.62 699.9L218.87 442.7L219.12 700.2L219.37 442.1L219.62 699.8L219.87 442.8L220.12 699.5L220.37 442.3L220.62 699.7L220.87 442.9L221.12 700.4L221.37 442.1L221.62 699.7L221.87 442.8L222.12 700.5L222.37 442.5L222.62 699.6L222.87 442.8L223.12 700.3L223.37 442.6L223.62 699.1L223.87 442.2L224.12 700.8L224.37 442.4L224.62 700.2L224.87 442.6L225.12 699.6L225.37 442.9L225.62 700.0L225.87 442.9L226.12 700.5L226.37 442.5L226.62 699.9L226.87 442.4L227.12 700.3L227.37 441.6L227.62 699.7L227.87 442.5L228.12 699.4L228.37 442.7L228.62 699.9L228.87 442.2L229.12 699.5L229.37 441.9L229.62 699.9L229.87 442.8L230.12 700.5L230.37 442.8L230.62 700.0L230.87 442.4L231.12 699.6L231.37 442.7L231.62 699.5L231.87 442.8L232.12 700.5L232.37 442.3L232.62 700.0L232.87 442.1L233.12 699.2L233.37 441.9L233.62 699.2L233.87 442.6L234.12 699.7L234.37 442.2L234.62 699.5L234.87 442.5L235.12 699.1L235.37 442.2L235.62 700.3L235.87 443.3L236.12 700.2L236.37 442.3L236.62 699.2L236.87 442.5L237.12 698.8L237.37 442.5L237.62 700.1L237.87 442.6L238.12 700.1L238.37 442.0L238.62 700.1L238.87 442.3L239.12 699.8L239.37 442.5L239.62 699.4L239.87 442.6L240.12 699.7L240.37 442.7L240.62 700.0L240.87 442.2L241.12 700.3L241.37 442.5L241.62 699.8L241.87 442.5L242.12 699.2L242.37 442.0L242.62 699.5L242.87 442.4L243.12 699.8L243.37 442.4L243.62 699.5L243.87 441.8L244.12 699.4L244.37 442.9L244.62 699.5L244.87 442.5L245.12 699.8L245.37 441.4L245.62 699.7L245.87 441.7L246.12 699.7L246.37 443.0L246.62 700.0L246.87 442.7L247.12 699.7L247.37 442.0L247.62 699.5L247.87 442.5L248.12 699.9L248.37 443.0L248.62 699.4L248.87 442.5L249.12 699.3L249.37 442.5L249.62 699.6L249.87 442.4L250.12 699.9L250.37 442.4L250.62 700.3L250.87 441.4L251.12 699.0L251.37 442.6L251.62 699.4L251.87 443.2L252.12 699.1L252.37 442.6L252.62 699.6L252.87 442.3L253.12 699.6L253.37 442.3L253.62 699.9L253.87 441.9L254.12 699.7L254.37 442.5L254.62 699.9L254.87 442.5L255.12 699.6L255.37 441.8L255.62 700.6L255.87 442.0L256.12 699.7L256.37 441.7L256.62 699.7L256.87 441.7L257.12 699.5L257.37 442.5L257.62 700.0L257.87 442.4L258.12 698.9L258.37 442.0L258.62 700.0L258.87 441.9L259.12 699.2L259.37 442.4L259.62 699.9L259.87 442.1L260.12 700.2L260.37 442.1L260.62 700.0L260.87 442.4L261.12 699.7L261.37 441.8L261.62 699.3L261.87 442.3L262.12 699.1L262.37 442.7L262.62 700.3L262.87 442.7L263.12 699.4L263.37 441.9L263.62 699.8L263.87 442.7L264.12 699.9L264.37 441.6L264.62 699.4L264.87 442.9L265.12 699.8L265.37 441.9L265.62 700.4L265.87 441.4L266.12 700.3L266.37 442.1L266.62 699.9L266.87 441.4L267.12 700.0L267.37 442.0L267.62 699.4L267.87 441.8L268.12 699.5L268.37 442.2L268.62 699.2L268.87 442.2L269.12 699.7L269.37 441.2L269.62 699.7L269.87 442.0L270.12 699.7L270.37 442.3L270.62 699.8L270.87 442.4L271.12 699.4L271.37 442.7L271.62 700.4L271.87 441.9L272.12 699.5L272.37 442.4L272.62 699.7L272.87 442.3L273.12 699.6L273.37 442.4L273.62 700.1L273.87 442.2L274.12 699.3L274.37 441.7L274.62 700.0L274.87 442.6L275.12 699.9L275.37 441.3L275.62 700.0L275.87 442.5L276.12 700.4L276.37 442.7L276.62 699.1L276.87 442.4L277.12 700.0L277.37 442.3L277.62 699.3L277.87 442.2L278.12 700.0L278.37 442.0L278.62 699.2L278.87 441.9L279.12 699.6L279.37 442.4L279.62 700.0L279.87 442.7L280.12 700.1L280.37 441.9L280.62 699.6L280.87 442.5L281.12 699.8L281.37 441.9L281.62 700.0L281.87 441.5L282.12 700.1L282.37 442.0L282.62 699.3L282.87 441.3L283.12 699.4L283.37 442.6L283.62 699.7L283.87 442.8L284.12 699.4L284.37 442.6L284.62 700.0L284.87 442.0L285.12 700.0L285.37 441.9L285.62 699.3L285.87 443.1L286.12 698.4L286.37 442.6L286.62 700.0L286.87 442.3L287.12 700.2L287.37 442.4L287.62 700.0L287.87 441.8L288.12 699.4L288.37 442.2L288.62 699.3L288.87 442.2L289.12 700.0L289.37 443.0L289.62 699.9L289.87 442.9L290.12 699.8L290.37 442.1L290.62 700.3L290.87 442.6L291.12 699.9L291.37 442.9L291.62 699.9L291.87 441.9L292.12 700.1L292.37 442.8L292.62 699.5L292.87 442.1L293.12 699.4L293.37 442.1L293.62 699.0L293.87 443.2L294.12 699.0L294.37 442.4L294.62 700.7L294.87 442.3L295.12 699.9L295.37 442.3L295.62 699.8L295.87 441.7L296.12 700.7L296.37 442.3L296.62 699.6L296.87 442.3L297.12 700.4L297.37 442.7L297.62 700.0L297.87 442.1L298.12 699.9L298.37 442.2L298.62 698.9L298.87 442.7L299.12 699.6L299.37 442.3L299.62 699.7L299.87 441.9L300.12 699.5L300.37 443.1L300.62 699.7L300.87 442.8L301.12 699.7L301.37 442.0L301.62 699.8L301.87 442.1L302.12 700.0L302.37 442.8L302.62 699.6L302.87 442.3L303.12 699.5L303.37 443.3L303.62 699.7L303.87 442.6L304.12 699.7L304.37 442.9L304.62 699.8L304.87 442.6L305.12 699.5L305.37 442.8L305.62 699.4L305.87 443.5L306.12 699.3L306.37 442.2L306.62 700.1L306.87 441.9L307.12 699.9L307.37 442.3L307.62 699.0L307.87 442.6L308.12 700.5L308.37 442.0L308.62 699.7L308.87 442.1L309.12 699.9L309.37 441.8L309.62 700.6L309.87 442.0L310.12 698.8L310.37 441.6L310.62 699.9L310.87 442.1L311.12 700.0L311.37 441.7L311.62 700.3L311.87 442.6L312.12 699.5L312.37 442.7L312.62 699.4L312.87 442.5L313.12 699.6L313.37 442.6L313.62 699.0L313.87 441.6L314.12 699.2L314.37 442.6L314.62 699.5L314.87 442.1L315.12 699.8L315.37 442.1L315.62 699.0L315.87 442.5L316.12 700.6L316.37 442.5L316.62 699.6L316.87 442.4L317.12 700.2L317.37 441.2L317.62 699.6L317.87 442.2L318.12 700.0L318.37 442.6L318.62 700.6L318.87 442.6L319.12 700.2L319.37 442.4L319.62 699.6L319.87 443.2L320.12 699.1L320.37 442.3L320.62 699.1L320.87 442.1L321.12 699.4L321.37 441.9L321.62 699.9L321.87 442.9L322.12 700.1L322.37 442.5L322.62 699.6L322.87 442.6L323.12 699.2L323.37 442.3L323.62 700.0L323.87 442.6L324.12 699.3L324.37 442.3L324.62 700.2L324.87 442.5L325.12 699.6L325.37 442.0L325.62 700.9L325.87 442.7L326.12 699.3L326.37 442.3L326.62 699.6L326.87 442.5L327.12 698.7L327.37 442.6L327.62 699.8L327.87 442.8L328.12 699.5L328.37 442.2L328.62 699.5L328.87 442.9L329.12 699.9L329.37 442.3L329.62 699.8L329.87 443.2L330.12 700.5L330.37 442.0L330.62 699.4L330.87 443.0L331.12 699.2L331.37 442.4L331.62 699.3L331.87 442.4L332.12 700.0L332.37 442.7L332.62 700.0L332.87 442.2L333.12 699.8L333.37 441.9L333.62 699.7L333.87 443.1L334.12 699.7L334.37 442.8L334.62 700.3L334.87 442.5L335.12 699.3L335.37 442.7L335.62 699.8L335.87 441.2L336.12 699.7L336.37 442.2L336.62 699.2L336.87 443.2L337.12 699.1L337.37 442.3L337.62 700.2L337.87 441.7L338.12 700.1L338.37 441.9L338.62 700.1L338.87 442.3L339.12 699.1L339.37 442.5L339.62 699.5L339.87 441.7L340.12 699.4L340.37 442.9L340.62 699.2L340.87 442.3L341.12 700.0L341.37 442.3L341.62 700.0L341.87 442.3L342.12 699.6L342.37 442.7L342.62 700.5L342.87 442.7L343.12 699.2L343.37 442.4L343.62 699.2L343.87 442.6L344.12 700.4L344.37 442.2L344.62 699.5L344.87 441.8L345.12 699.1L345.37 442.4L345.62 699.4L345.87 442.0L346.12 699.6L346.37 442.2L346.62 699.9L346.87 442.1L347.12 700.1L347.37 442.7L347.62 699.8L347.87 441.8L348.12 699.9L348.37 442.2L348.62 699.9L348.87 441.6L349.12 699.4L349.37 442.1L349.62 699.5L349.87 442.7L350.12 698.8L350.37 441.7L350.62 699.6L350.87 442.3L351.12 700.2L351.37 442.3L351.62 699.3L351.87 441.9L352.12 700.0L352.37 443.2L352.62 699.5L352.87 441.9L353.12 699.8L353.37 442.2L353.62 700.2L353.87 442.2L354.12 699.8L354.37 442.6L354.62 699.7L354.87 442.6L355.12 700.0L355.37 444.0L355.62 699.9L355.87 442.7L356.12 699.4L356.37 442.2L356.62 700.2L356.87 443.0L357.12 699.5L357.37 441.9L357.62 699.2L357.87 443.1L358.12 700.8L358.37 441.8L358.62 699.5L358.87 442.8L359.12 699.8L359.37 442.3L359.62 699.0L359.87 442.9L360.12 699.9L360.37 442.0L360.62 699.5L360.87 442.1L361.12 699.6L361.37 442.9L361.62 700.0L361.87 442.8L362.12 699.0L362.37 441.6L362.62 699.2L362.87 442.5L363.12 699.3L363.37 441.6L363.62 700.1L363.87 442.8L364.12 700.0L364.37 442.4L364.62 699.5L364.87 442.0L365.12 700.0L365.37 442.8L365.62 700.0L365.87 441.9L366.12 700.2L366.37 442.6L366.62 699.8L366.87 442.5L367.12 700.4L367.37 442.3L367.62 699.6L367.87 443.3L368.12 700.2L368.37 443.2L368.62 701.2L368.87 442.8L369.12 698.7L369.37 441.7L369.62 699.9L369.87 442.4L370.12 699.8L370.37 442.6L370.62 700.4L370.87 442.8L371.12 699.3L371.37 441.9L371.62 699.4L371.87 442.0L372.12 698.9L372.37 441.8L372.62 699.5L372.87 442.2L373.12 699.4L373.37 442.6L373.62 699.9L373.87 441.9L374.12 699.7L374.37 442.4L374.62 699.3L374.87 442.5L375.12 698.8L375.37 442.8L375.62 699.9L375.87 442.1L376.12 699.7L376.37 442.0L376.62 699.2L376.87 441.5L377.12 700.0L377.37 441.0L377.62 700.3L377.87 442.4L378.12 699.1L378.37 442.8L378.62 699.6L378.87 442.3L379.12 700.1L379.37 442.6L379.62 699.4L379.87 442.3L380.12 699.9L380.37 442.7L380.62 700.9L380.87 442.9L381.12 699.9L381.37 442.5L381.62 698.9L381.87 442.1L382.12 699.7L382.37 443.4L382.62 700.3L382.87 441.9L383.12 699.7L383.37 442.4L383.62 699.7L383.87 441.8L384.12 699.9L384.37 442.3L384.62 699.3L384.87 442.1L385.12 700.8L385.37 442.0L385.62 699.9L385.87 442.7L386.12 699.6L386.37 442.5L386.62 699.8L386.87 442.2L387.12 699.0L387.37 442.3L387.62 699.6L387.87 442.2L388.12 699.8L388.37 442.6L388.62 700.1L388.87 442.5L389.12 699.0L389.37 441.8L389.62 698.6L389.87 442.0L390.12 700.4L390.37 442.7L390.62 699.8L390.87 442.3L391.12 699.5L391.37 442.0L391.62 698.8L391.87 442.5L392.12 699.7L392.37 442.5L392.62 699.8L392.87 442.0L393.12 699.4L393.37 443.8L393.62 700.3L393.87 442.5L394.12 699.9L394.37 441.9L394.62 700.5L394.87 441.9L395.12 699.9L395.37 441.7L395.62 698.8L395.87 442.3L396.12 699.8L396.37 442.2L396.62 699.3L396.87 441.9L397.12 699.3L397.37 442.3L397.62 699.6L397.87 441.6L398.12 700.0L398.37 442.5L398.62 698.6L398.87 441.8L399.12 699.9L399.37 441.9L399.62 698.9L399.87 442.7L400.12 700.3L400.37 442.8L400.62 699.3L400.87 441.6L401.12 699.3L401.37 442.2L401.62 699.5L401.87 442.8L402.12 699.4L402.37 442.5L402.62 698.9L402.87 443.0L403.12 699.5L403.37 442.4L403.62 700.3L403.87 441.9L404.12 700.0L404.37 442.0L404.62 699.5L404.87 441.5L405.12 699.7L405.37 441.4L405.62 699.7L405.87 442.6L406.12 699.0L406.37 442.1L406.62 699.8L406.87 442.4L407.12 614.4L407.37 521.4L407.62 610.7L407.87 519.3L408.12 614.7L408.37 560.9L408.62 611.2L408.87 564.1L409.12 613.2L409.37 564.5L409.62 616.0L409.87 500.5L410.12 545.0L410.37 452.5L410.62 543.5L410.87 451.4L411.12 534.0L411.37 484.3L411.62 529.6L411.87 485.3L412.12 529.1L412.37 485.6L412.62 544.1L412.87 452.1L413.12 544.4L413.37 458.7L413.62 543.8L413.87 455.7L414.12 544.6L414.37 459.1L414.62 540.5L414.87 460.6L415.12 539.5L415.37 461.9L415.62 540.3L415.87 497.3L416.12 537.3L416.37 496.4L416.62 538.2L416.87 494.3L417.12 699.8L417.37 441.9L417.62 699.7L417.87 442.9L418.12 699.6L418.37 442.5L418.62 699.5L418.87 442.5L419.12 699.2L419.37 441.9L419.62 700.2L419.87 442.0L420.12 699.9L420.37 442.5L420.62 700.6L420.87 442.1L421.12 700.1L421.37 442.7L421.62 699.1L421.87 442.7L422.12 551.8L422.37 461.2L422.62 555.3L422.87 465.3L423.12 555.1L423.37 468.5L423.62 554.7L423.87 465.8L424.12 556.1L424.37 477.2L424.62 557.0L424.87 526.1L425.12 561.2L425.37 531.3L425.62 559.3L425.87 533.2L426.12 699.5L426.37 442.3L426.62 699.2L426.87 442.6L427.12 699.0L427.37 442.3L427.62 699.5L427.87 442.3L428.12 699.9L428.37 442.4L428.62 699.4L428.87 442.3L429.12 700.6L429.37 442.4L429.62 699.7L429.87 442.2L430.12 699.7L430.37 442.0L430.62 699.3L430.87 443.0L431.12 699.7L431.37 442.0L431.62 700.3L431.87 442.4L432.12 699.3L432.37 441.9L432.62 699.2L432.87 442.1L433.12 700.2L433.37 442.5L433.62 699.6L433.87 442.9L434.12 698.4L434.37 443.0L434.62 699.2L434.87 442.2L435.12 525.0L435.37 462.8L435.62 531.6L435.87 461.0L436.12 525.2L436.37 459.4L436.62 572.3L436.87 457.9L437.12 573.8L437.37 455.3L437.62 576.3L437.87 455.6L438.12 523.9L438.37 446.9L438.62 523.6L438.87 452.4L439.12 524.6L439.37 450.8L439.62 513.8L439.87 520.1L440.12 597.3L440.37 600.9L440.62 603.2L440.87 602.1L441.12 649.1L441.37 572.0L441.62 665.2L441.87 572.4L442.12 679.8L442.37 573.9L442.62 652.0L442.87 574.3L443.12 699.2L443.37 441.9L443.62 699.4L443.87 442.7L444.12 700.2L444.37 442.8L444.62 699.5L444.87 441.8L445.12 699.0L445.37 442.3L445.62 699.8L445.87 442.3L446.12 699.8L446.37 441.4L446.62 699.6L446.87 442.2L447.12 699.6L447.37 442.1L447.62 699.5L447.87 441.6L448.12 699.6L448.37 442.6L448.62 700.0L448.87 442.6L449.12 699.6L449.37 441.4L449.62 699.7L449.87 441.0L450.12 700.4L450.37 441.4L450.62 700.2L450.87 442.5L451.12 700.5L451.37 442.6L451.62 699.7L451.87 442.1L452.12 700.1L452.37 597.4L452.62 700.5L452.87 598.9L453.12 699.4L453.37 445.4L453.62 699.4L453.87 452.9L454.12 700.2L454.37 459.1L454.62 530.7L454.87 461.0L455.12 532.6L455.37 464.2L455.62 539.0L455.87 468.5L456.12 593.7L456.37 458.6L456.62 597.7L456.87 473.5L457.12 598.8L457.37 477.1L457.62 599.5L457.87 549.2L458.12 601.5L458.37 543.1L458.62 610.1L458.87 553.3L459.12 607.8L459.37 477.0L459.62 609.7L459.87 488.1L460.12 612.9L460.37 494.2L460.62 614.8L460.87 497.7L461.12 616.0L461.37 500.6L461.62 622.7L461.87 500.9L462.12 596.7L462.37 523.5L462.62 600.0L462.87 534.4L463.12 600.2L463.37 533.1L463.62 577.8L463.87 505.1L464.12 578.8L464.37 505.7L464.62 699.5L464.87 442.8L465.12 699.2L465.37 442.6L465.62 700.1L465.87 441.9L466.12 699.8L466.37 442.0L466.62 699.7L466.87 442.8L467.12 699.5L467.37 442.4L467.62 698.9L467.87 442.3L468.12 609.6L468.37 538.3L468.62 616.1L468.87 538.6L469.12 613.8L469.37 537.1L469.62 617.2L469.87 505.4L470.12 622.6L470.37 502.7L470.62 623.9L470.87 503.4L471.12 630.1L471.37 502.8L471.62 630.5L471.87 501.2L472.12 643.6L472.37 500.5L472.62 639.5L472.87 521.5L473.12 644.0L473.37 530.0L473.62 607.3L473.87 523.9L474.12 608.3L474.37 503.3L474.62 609.0L474.87 510.2L475.12 609.6L475.37 511.2L475.62 640.8L475.87 529.8L476.12 637.6L476.37 530.3L476.62 637.3L476.87 532.3L477.12 638.3L477.37 533.0L477.62 637.9L477.87 536.7L478.12 624.3L478.37 530.0L478.62 625.4L478.87 526.4L479.12 614.4L479.37 522.7L479.62 612.1L479.87 515.0L480.12 610.7L480.37 491.1L480.62 608.0L480.87 494.5L481.12 608.9L481.37 495.5L481.62 607.8L481.87 488.2L482.12 618.5L482.37 526.6L482.62 627.2L482.87 534.0L483.12 604.4L483.37 540.9L483.62 614.5L483.87 550.5L484.12 620.6L484.37 558.7L484.62 659.3L484.87 564.8L485.12 664.1L485.37 567.5L485.62 669.7L485.87 571.4L486.12 610.6L486.37 577.2L486.62 617.3L486.87 579.8L487.12 628.6L487.37 584.2L487.62 652.5L487.87 586.3L488.12 657.4L488.37 589.3L488.62 699.3L488.87 441.7L489.12 699.0L489.37 442.0L489.62 699.2L489.87 442.2L490.12 700.6L490.37 443.3L490.62 700.0L490.87 628.0L491.12 699.6L491.37 628.0L491.62 700.3L491.87 613.6L492.12 700.0L492.37 442.4L492.62 699.5L492.87 442.2L493.12 699.8L493.37 442.0L493.62 700.1L493.87 443.4L494.12 700.3L494.37 593.1L494.62 699.2L494.87 593.4L495.12 700.2L495.37 442.0L495.62 700.1L495.87 442.2L496.12 699.2L496.37 442.7L496.62 699.8L496.87 441.5L497.12 700.2L497.37 621.7L497.62 700.1L497.87 441.8L498.12 699.5L498.37 442.7L498.62 700.2L498.87 441.9L499.12 700.2L499.37 625.3L499.62 700.3L499.87 612.1L500.12 699.6L500.37 443.0L500.62 699.7L500.87 442.3L501.12 699.9L501.37 442.2L501.62 699.5L501.87 442.1L502.12 699.4L502.37 442.2L502.62 699.7L502.87 627.1L503.12 699.7L503.37 622.7L503.62 698.9L503.87 626.5L504.12 699.1L504.37 442.5L504.62 699.3L504.87 442.8L505.12 699.0L505.37 441.8L505.62 699.8L505.87 441.6L506.12 699.6L506.37 442.7L506.62 699.4L506.87 442.6L507.12 699.6L507.37 612.1L507.62 699.5L507.87 614.1L508.12 699.9L508.37 442.2L508.62 700.0L508.87 442.2L509.12 699.9L509.37 442.7L509.62 700.5L509.87 442.4L510.12 699.8L510.37 441.6L510.62 699.6L510.87 441.7L511.12 659.4L511.37 570.6L511.62 684.6L511.87 645.1L512.12 683.5L512.37 641.5L512.62 671.6L512.87 638.2L513.12 631.4L513.37 572.4L513.62 627.4L513.87 573.6L514.12 625.2L514.37 571.2L514.62 626.0L514.87 544.4L515.12 622.5L515.37 539.0L515.62 619.8L515.87 536.9L516.12 638.2L516.37 536.6L516.62 639.1L516.87 519.2L517.12 631.6L517.37 530.6L517.62 620.2L517.87 515.9L518.12 609.3L518.37 506.7L518.62 593.8L518.87 500.8L519.12 523.9L519.37 485.8L519.62 520.3L519.87 488.1L520.12 504.5L520.37 464.5L520.62 528.3L520.87 462.4L521.12 528.1L521.37 456.7L521.62 525.9L521.87 458.4L522.12 502.7L522.37 456.3L522.62 500.2L522.87 453.2L523.12 497.7L523.37 450.1L523.62 528.9L523.87 448.2L524.12 699.6L524.37 441.6L524.62 698.8L524.87 442.7L525.12 699.2L525.37 443.5L525.62 699.9L525.87 442.3L526.12 700.0L526.37 442.1L526.62 699.9L526.87 442.3L527.12 699.7L527.37 442.8L527.62 699.5L527.87 441.8L528.12 699.7L528.37 442.6L528.62 699.7L528.87 442.4L529.12 699.5L529.37 442.3L529.62 699.2L529.87 442.3L530.12 699.5L530.37 442.0L530.62 698.9L530.87 442.6L531.12 699.9L531.37 441.9L531.62 698.8L531.87 442.4L532.12 699.3L532.37 442.0L532.62 700.3L532.87 442.2L533.12 699.5L533.37 442.2L533.62 699.1L533.87 442.3L534.12 700.1L534.37 441.7L534.62 699.8L534.87 442.6L535.12 699.6L535.37 442.1L535.62 699.2L535.87 442.3L536.12 699.5L536.37 442.6L536.62 700.2L536.87 443.1L537.12 699.4L537.37 442.0L537.62 699.1L537.87 442.4L538.12 700.0L538.37 442.7L538.62 699.8L538.87 443.3L539.12 699.6L539.37 443.1L539.62 700.2L539.87 442.0L540.12 699.7L540.37 442.1L540.62 700.3L540.87 442.4L541.12 699.8L541.37 442.7L541.62 698.5L541.87 442.4L542.12 699.7L542.37 442.7L542.62 700.0L542.87 441.6L543.12 699.8L543.37 442.0L543.62 699.8L543.87 442.3L544.12 700.0L544.37 442.0M545.62 699.4L545.87 441.6L546.12 700.3L546.37 442.6L546.62 699.6L546.87 441.8L547.12 700.5L547.37 441.4L547.62 699.4L547.87 442.7L548.12 700.2L548.37 442.6L548.62 699.7L548.87 442.7L549.12 699.1L549.37 442.5L549.62 699.8L549.87 442.6L550.12 659.6L550.37 604.1L550.62 647.3L550.87 511.8L551.12 640.5L551.37 517.4L551.62 635.6L551.87 520.7L552.12 624.1L552.37 525.5L552.62 621.3L552.87 526.0L553.12 609.2L553.37 531.0L553.62 617.7L553.87 533.4L554.12 616.4L554.37 512.4L554.62 615.7L554.87 514.3L555.12 556.7L555.37 524.4L555.62 547.2L555.87 515.2L556.12 538.8L556.37 496.2L556.62 600.3L556.87 477.5L557.12 594.2L557.37 463.5L557.62 593.2L557.87 458.6L558.12 590.3L558.37 514.9L558.62 699.3L558.87 442.2L559.12 699.7L559.37 442.3L559.62 699.3L559.87 442.5L560.12 699.9L560.37 441.7L560.62 699.8L560.87 442.5L561.12 656.4L561.37 627.1L561.62 657.5L561.87 630.9L562.12 660.4L562.37 629.5L562.62 675.9L562.87 607.3L563.12 677.0L563.37 605.5L563.62 675.0L563.87 605.0L564.12 676.9L564.37 603.9L564.62 679.6L564.87 600.9L565.12 651.5L565.37 574.3L565.62 661.2L565.87 575.2L566.12 665.1L566.37 566.0L566.62 671.1L566.87 576.1L567.12 675.6L567.37 569.2L567.62 684.0L567.87 574.2L568.12 695.7L568.37 574.8L568.62 700.0L568.87 442.6L569.12 699.3L569.37 442.1L569.62 699.8L569.87 442.3L570.12 699.5L570.37 442.3L570.62 699.3L570.87 441.9L571.12 700.0L571.37 442.5L571.62 581.7L571.87 466.5L572.12 582.0L572.37 480.0L572.62 587.6L572.87 496.2L573.12 606.2L573.37 505.4L573.62 609.4L573.87 519.3L574.12 607.5L574.37 485.3L574.62 592.9L574.87 568.1L575.12 597.6L575.37 581.2L575.62 601.6L575.87 582.8L576.12 628.3L576.37 543.2L576.62 628.8L576.87 543.5L577.12 634.5L577.37 543.6L577.62 590.6L577.87 541.4L578.12 594.1L578.37 540.5L578.62 597.2L578.87 533.0L579.12 650.6L579.37 562.1L579.62 657.8L579.87 559.5L580.12 663.3L580.37 564.2L580.62 700.0L580.87 442.4L581.12 700.4L581.37 442.4L581.62 699.6L581.87 442.0L582.12 699.7L582.37 442.9L582.62 699.9L582.87 442.6L583.12 699.3L583.37 442.7M584.62 700.0L584.87 442.5L585.12 699.1L585.37 442.1L585.62 700.3L585.87 442.0L586.12 699.1L586.37 441.9L586.62 699.4L586.87 442.0L587.12 700.1L587.37 442.8L587.62 699.4L587.87 442.7L588.12 698.2L588.37 442.2L588.62 699.6L588.87 443.1L589.12 699.7L589.37 441.5L589.62 699.8L589.87 441.9L590.12 699.4L590.37 442.1L590.62 700.4L590.87 442.5L591.12 699.8L591.37 442.5L591.62 699.5L591.87 442.7L592.12 700.4L592.37 442.4L592.62 699.4L592.87 647.1L593.12 700.2L593.37 649.5L593.62 700.2L593.87 648.1L594.12 698.9L594.37 635.0L594.62 700.1L594.87 639.1L595.12 699.3L595.37 641.1L595.62 700.1L595.87 671.8L596.12 699.9L596.37 670.2L596.62 699.4L596.87 441.6L597.12 699.0L597.37 441.9L597.62 699.7L597.87 442.7L598.12 700.0L598.37 442.3L598.62 699.7L598.87 442.2L599.12 699.2L599.37 441.8L599.62 699.8L599.87 442.6L600.12 699.1L600.37 442.4L600.62 699.1L600.87 442.2L601.12 699.8L601.37 441.9L601.62 699.2L601.87 442.5L602.12 699.6L602.37 442.2L602.62 699.9L602.87 442.2L603.12 699.7L603.37 442.7L603.62 700.0L603.87 442.9L604.12 552.1L604.37 491.7L604.62 601.1L604.87 469.2L605.12 601.7L605.37 474.7L605.62 604.8L605.87 475.6L606.12 601.7L606.37 482.2L606.62 603.0L606.87 485.3L607.12 608.6L607.37 490.8L607.62 602.7L607.87 547.0M608.62 700.0L608.87 442.2L609.12 699.5L609.37 443.0L609.62 699.9L609.87 443.0L610.12 699.7L610.37 442.2L610.62 700.0L610.87 442.5L611.12 699.0L611.37 442.7L611.62 699.7L611.87 442.5L612.12 699.7L612.37 442.3L612.62 699.7L612.87 443.2L613.12 699.3L613.37 441.8L613.62 699.4L613.87 443.1L614.12 699.4L614.37 442.7L614.62 616.6L614.87 567.7L615.12 650.4L615.37 556.0L615.62 648.7L615.87 546.7L616.12 658.1L616.37 539.2L616.62 620.6L616.87 521.0L617.12 595.8L617.37 494.0L617.62 592.8L617.87 494.3L618.12 560.2L618.37 498.3L618.62 562.4L618.87 498.8L619.12 571.3L619.37 525.4L619.62 625.0L619.87 546.2L620.12 616.4L620.37 536.7L620.62 609.9L620.87 542.6L621.12 610.5L621.37 521.1L621.62 598.2L621.87 517.8L622.12 593.7L622.37 516.7L622.62 620.1L622.87 568.1L623.12 700.0L623.37 442.7L623.62 700.2L623.87 442.8L624.12 699.9L624.37 442.5L624.62 699.5L624.87 442.3L625.12 699.3L625.37 442.3L625.62 699.5L625.87 442.3L626.12 699.5L626.37 441.6L626.62 699.7L626.87 443.0L627.12 699.4L627.37 442.1L627.62 698.9L627.87 441.6L628.12 699.8L628.37 442.5L628.62 699.7L628.87 442.1L629.12 699.3L629.37 441.9L629.62 700.1L629.87 442.0L630.12 699.3L630.37 442.4L630.62 699.3L630.87 442.6L631.12 699.5L631.37 442.1L631.62 700.0L631.87 442.8L632.12 699.4L632.37 442.5L632.62 699.7L632.87 442.1L633.12 700.3L633.37 442.0L633.62 699.3L633.87 442.1L634.12 699.5L634.37 442.7L634.62 565.2L634.87 470.3L635.12 568.3L635.37 478.1L635.62 569.2L635.87 481.0L636.12 570.5L636.37 526.6L636.62 573.4L636.87 528.1L637.12 577.2L637.37 534.7L637.62 585.3L637.87 550.3L638.12 583.1L638.37 552.9L638.62 588.8L638.87 557.4L639.12 623.0L639.37 505.3L639.62 644.2L639.87 524.3L640.12 662.7L640.37 519.8L640.62 677.9L640.87 523.6L641.12 699.5L641.37 530.0L641.62 699.4L641.87 441.7L642.12 699.9L642.37 442.4L642.62 699.2L642.87 442.3L643.12 572.8L643.37 504.2L643.62 572.5L643.87 477.4L644.12 574.5L644.37 485.7L644.62 571.8L644.87 482.9L645.12 698.8L645.37 442.1L645.62 700.0L645.87 442.0L646.12 699.3L646.37 442.2L646.62 699.4L646.87 442.5L647.12 518.9L647.37 441.9L647.62 520.1L647.87 442.2L648.12 585.8L648.37 441.9L648.62 573.0L648.87 442.4L649.12 574.9L649.37 441.5L649.62 699.8L649.87 442.2L650.12 699.4L650.37 442.0L650.62 700.1L650.87 441.6L651.12 700.1L651.37 442.6L651.62 699.7L651.87 441.8L652.12 699.0L652.37 442.5L652.62 699.1L652.87 441.6L653.12 699.5L653.37 442.8L653.62 699.1L653.87 442.4L654.12 699.4L654.37 441.8L654.62 699.1L654.87 441.7L655.12 699.7L655.37 441.6L655.62 574.8L655.87 442.4L656.12 576.5L656.37 442.6L656.62 699.9L656.87 442.1L657.12 699.7L657.37 442.2L657.62 699.4L657.87 443.0L658.12 698.9L658.37 442.9L658.62 699.2L658.87 442.1L659.12 700.6L659.37 441.8L659.62 699.4L659.87 442.8L660.12 700.3L660.37 442.2L660.62 700.1L660.87 441.4L661.12 700.4L661.37 442.5L661.62 699.9L661.87 442.9L662.12 699.5L662.37 442.6L662.62 699.4L662.87 442.2L663.12 548.2L663.37 488.2L663.62 543.1L663.87 494.2L664.12 537.0L664.37 490.8L664.62 538.4L664.87 461.4L665.12 542.5L665.37 467.8L665.62 549.1L665.87 471.3L666.12 522.1L666.37 516.6L666.62 524.6L666.87 520.0L667.12 532.6L667.37 527.6L667.62 568.1L667.87 486.3L668.12 581.4L668.37 490.9L668.62 599.9L668.87 492.7L669.12 610.2L669.37 500.0L669.62 647.4L669.87 566.6L670.12 650.3L670.37 558.5L670.62 656.1L670.87 591.3L671.12 658.7L671.37 589.2L671.62 662.9L671.87 584.0L672.12 663.9L672.37 543.0L672.62 660.1L672.87 540.7L673.12 663.0L673.37 544.6L673.62 657.2L673.87 570.7L674.12 654.6L674.37 563.8L674.62 651.9L674.87 569.7L675.12 610.6L675.37 563.9L675.62 609.5L675.87 559.9L676.12 611.9L676.37 561.4L676.62 648.4L676.87 537.4L677.12 636.3L677.37 519.5L677.62 630.1L677.87 513.1L678.12 617.0L678.37 490.7L678.62 607.2L678.87 483.5L679.12 616.9L679.37 490.3L679.62 637.0L679.87 506.6L680.12 651.1L680.37 518.7L680.62 670.3L680.87 532.6L681.12 679.9L681.37 535.6L681.62 667.0L681.87 533.3L682.12 663.6L682.37 526.6L682.62 661.6L682.87 526.5L683.12 656.0L683.37 523.1L683.62 656.8L683.87 512.9L684.12 641.9L684.37 512.8L684.62 637.9L684.87 520.4L685.12 699.8L685.37 443.0L685.62 700.0L685.87 442.2L686.12 699.0L686.37 441.8L686.62 699.8L686.87 441.7L687.12 573.1L687.37 527.1L687.62 570.7L687.87 526.2L688.12 569.2L688.37 524.8L688.62 569.4L688.87 451.5L689.12 573.8L689.37 450.1L689.62 578.7L689.87 446.7L690.12 699.5L690.37 442.2L690.62 700.1L690.87 442.8L691.12 700.6L691.37 443.2L691.62 614.2L691.87 568.8L692.12 616.0L692.37 567.8L692.62 699.2L692.87 442.8L693.12 699.5L693.37 442.5L693.62 700.2L693.87 442.1L694.12 700.1L694.37 442.3L694.62 700.3L694.87 442.5L695.12 699.0L695.37 442.7L695.62 700.2L695.87 441.1L696.12 699.5L696.37 441.9L696.62 700.1L696.87 442.4L697.12 698.7L697.37 442.2M698.12 699.8L698.37 442.6L698.62 699.1L698.87 442.0L699.12 700.2L699.37 442.0L699.62 700.1L699.87 545.5L700.12 699.1L700.37 545.0L700.62 699.9L700.87 544.8L701.12 699.8L701.37 443.0L701.62 699.2L701.87 441.6L702.12 700.6L702.37 443.4L702.62 700.6L702.87 442.2L703.12 699.3L703.37 441.9L703.62 699.5L703.87 443.0L704.12 700.0L704.37 442.9L704.62 700.0L704.87 442.1L705.12 698.6L705.37 442.7L705.62 699.7L705.87 442.2L706.12 700.3L706.37 442.7L706.62 699.5L706.87 442.2L707.12 700.0L707.37 442.5L707.62 699.5L707.87 442.6L708.12 700.1L708.37 442.7L708.62 699.6L708.87 442.9L709.12 700.2L709.37 442.4L709.62 700.1L709.87 442.3L710.12 700.1L710.37 441.8L710.62 700.1L710.87 442.0L711.12 699.6L711.37 442.6L711.62 700.2L711.87 442.0L712.12 700.1L712.37 441.9L712.62 700.7L712.87 442.6L713.12 699.3L713.37 442.5L713.62 699.6L713.87 442.5L714.12 699.2L714.37 442.7L714.62 699.6L714.87 443.0L715.12 699.3L715.37 441.6L715.62 699.3L715.87 442.4L716.12 699.8L716.37 442.8L716.62 700.1L716.87 442.2L717.12 699.9L717.37 442.6L717.62 700.1L717.87 442.3L718.12 699.7L718.37 442.1L718.62 699.2L718.87 442.3L719.12 700.1L719.37 442.6L719.62 700.0L719.87 442.5L720.12 699.2L720.37 442.4L720.62 699.7L720.87 442.0L721.12 699.0L721.37 442.4L721.62 700.4L721.87 442.5L722.12 700.3L722.37 442.1L722.62 700.0L722.87 443.3L723.12 699.4L723.37 441.3L723.62 699.1L723.87 442.8L724.12 699.9L724.37 442.4L724.62 699.7L724.87 442.7L725.12 699.4L725.37 443.0L725.62 699.9L725.87 442.0L726.12 700.2L726.37 442.0L726.62 699.6L726.87 442.0L727.12 700.2L727.37 442.2L727.62 699.3L727.87 441.6L728.12 699.7L728.37 442.0L728.62 700.6L728.87 441.9L729.12 699.8L729.37 442.4L729.62 699.5L729.87 442.6L730.12 699.9L730.37 441.5L730.62 699.7L730.87 442.4L731.12 699.5L731.37 442.0L731.62 699.8L731.87 442.2L732.12 698.7L732.37 442.3L732.62 700.0L732.87 442.9L733.12 699.3L733.37 441.7L733.62 699.8L733.87 443.0L734.12 699.7L734.37 442.4L734.62 699.7L734.87 442.6L735.12 699.5L735.37 442.6L735.62 699.9L735.87 441.4L736.12 700.3L736.37 442.4L736.62 699.8L736.87 441.9L737.12 699.2L737.37 442.1L737.62 699.7L737.87 442.3L738.12 700.3L738.37 442.2L738.62 699.8L738.87 442.3L739.12 699.3L739.37 442.7L739.62 699.3L739.87 441.6L740.12 699.7L740.37 442.1L740.62 699.1L740.87 442.6L741.12 699.3L741.37 442.4L741.62 699.7L741.87 442.6L742.12 699.3L742.37 442.1L742.62 699.6L742.87 442.0L743.12 699.5L743.37 442.2L743.62 699.7L743.87 442.4L744.12 700.2L744.37 441.7L744.62 698.9L744.87 442.6L745.12 700.3L745.37 442.3L745.62 700.2L745.87 441.9L746.12 699.0L746.37 441.6L746.62 699.1L746.87 442.6L747.12 699.7L747.37 442.8L747.62 699.6L747.87 442.6L748.12 699.4L748.37 442.1L748.62 700.4L748.87 442.5L749.12 699.6L749.37 442.4L749.62 700.3L749.87 442.5L750.12 699.3L750.37 441.9L750.62 700.2L750.87 443.5L751.12 700.1L751.37 442.1L751.62 699.9L751.87 442.8L752.12 699.2L752.37 442.5L752.62 699.8L752.87 441.8L753.12 700.2L753.37 442.3L753.62 699.5L753.87 442.7L754.12 699.0L754.37 441.1L754.62 699.7L754.87 442.6L755.12 700.0L755.37 441.1L755.62 699.0L755.87 442.2L756.12 698.7L756.37 443.6L756.62 699.7L756.87 441.9L757.12 700.0L757.37 442.1L757.62 699.4L757.87 442.3L758.12 700.1L758.37 442.4L758.62 698.8L758.87 442.4L759.12 700.2L759.37 442.1L759.62 700.4L759.87 442.2L760.12 699.4L760.37 442.9L760.62 699.9L760.87 442.7L761.12 699.3L761.37 442.1L761.62 700.4L761.87 441.9L762.12 699.6L762.37 442.7L762.62 700.5L762.87 441.5L763.12 699.4L763.37 442.2L763.62 699.4L763.87 442.4L764.12 699.9L764.37 442.5L764.62 699.6L764.87 443.2L765.12 699.9L765.37 442.5L765.62 699.8L765.87 443.2L766.12 699.1L766.37 442.4L766.62 699.8L766.87 441.7L767.12 699.3L767.37 441.8L767.62 699.5L767.87 442.6L768.12 700.4L768.37 442.7L768.62 700.4L768.87 442.8L769.12 700.1L769.37 441.4L769.62 700.5L769.87 442.7L770.12 699.8L770.37 442.6L770.62 700.0L770.87 442.2L771.12 700.2L771.37 442.5L771.62 699.7L771.87 442.9L772.12 699.4L772.37 442.3L772.62 666.2L772.87 628.5L773.12 644.7L773.37 603.1L773.62 607.2L773.87 556.5L774.12 621.5L774.37 549.2L774.62 603.0L774.87 539.0L775.12 577.7L775.37 532.7L775.62 552.3L775.87 525.6L776.12 539.9L776.37 517.0L776.62 536.0L776.87 514.2L777.12 570.2L777.37 505.0L777.62 569.2L777.87 495.9L778.12 570.1L778.37 490.1L778.62 569.8L778.87 503.4L779.12 569.4L779.37 504.0L779.62 572.7L779.87 497.7L780.12 574.8L780.37 457.9L780.62 569.2L780.87 453.5L781.12 569.2L781.37 445.9L781.62 699.8L781.87 442.7L782.12 699.2L782.37 442.1L782.62 699.4L782.87 441.8M784.62 700.2L784.87 442.6L785.12 699.4L785.37 442.8L785.62 700.2L785.87 442.1L786.12 699.9L786.37 441.7L786.62 699.4L786.87 442.4L787.12 699.9L787.37 441.3L787.62 699.4L787.87 442.5L788.12 699.7L788.37 441.6L788.62 699.7L788.87 442.8L789.12 699.9L789.37 442.4L789.62 699.5L789.87 441.4L790.12 698.8L790.37 443.0L790.62 700.0L790.87 442.6M794.12 700.5L794.37 442.6L794.62 698.9L794.87 441.8L795.12 699.4L795.37 442.8L795.62 699.8L795.87 442.5L796.12 700.1L796.37 442.9L796.62 700.3L796.87 442.4L797.12 700.2L797.37 442.0L797.62 581.8L797.87 567.2L798.12 651.1L798.37 526.4L798.62 652.6L798.87 522.7L799.12 700.4L799.37 443.0L799.62 700.4L799.87 442.2L800.12 699.6L800.37 441.8L800.62 699.0L800.87 442.5L801.12 698.8L801.37 442.3L801.62 625.7L801.87 591.1L802.12 626.1L802.37 596.2L802.62 623.0L802.87 595.9L803.12 637.8L803.37 589.4L803.62 616.6L803.87 591.2L804.12 613.4L804.37 585.6L804.62 614.0L804.87 584.4L805.12 617.7L805.37 585.6L805.62 634.7L805.87 587.6L806.12 632.7L806.37 586.6L806.62 635.1L806.87 586.8L807.12 647.8L807.37 645.5L807.62 651.8L807.87 644.6L808.12 660.3L808.37 651.2L808.62 658.5L808.87 641.9L809.12 652.3L809.37 635.8L809.62 653.3L809.87 630.3L810.12 673.8L810.37 634.7L810.62 675.3L810.87 636.0L811.12 655.1L811.37 622.4L811.62 654.8L811.87 635.7L812.12 651.1L812.37 633.4L812.62 651.3L812.87 634.1L813.12 647.2L813.37 619.0L813.62 648.3L813.87 617.9L814.12 648.0L814.37 617.3L814.62 624.6L814.87 563.8L815.12 626.9L815.37 555.1L815.62 623.0L815.87 558.1L816.12 625.3L816.37 592.1M869.12 699.7L869.37 442.4L869.62 699.8L869.87 442.0L870.12 699.4L870.37 442.8L870.62 699.5L870.87 442.4L871.12 699.4L871.37 441.9L871.62 699.7L871.87 441.9L872.12 700.3L872.37 442.9L872.62 699.5L872.87 441.6L873.12 699.3L873.37 442.2L873.62 699.6L873.87 442.4L874.12 699.9L874.37 441.9L874.62 700.0L874.87 442.4L875.12 700.2L875.37 442.8L875.62 699.6L875.87 442.7L876.12 699.8L876.37 441.8L876.62 699.6L876.87 442.1L877.12 699.8L877.37 443.0L877.62 699.2L877.87 441.6L878.12 699.6L878.37 442.1L878.62 699.4L878.87 441.5L879.12 700.2L879.37 442.3L879.62 700.4L879.87 442.4L880.12 700.3L880.37 441.7L880.62 700.1L880.87 443.2L881.12 700.4L881.37 442.5L881.62 700.2L881.87 442.1L882.12 699.7L882.37 442.5L882.62 699.1L882.87 442.4L883.12 699.6L883.37 442.7L883.62 699.4L883.87 442.1L884.12 699.3L884.37 442.8L884.62 699.6L884.87 442.0L885.12 699.8L885.37 442.4L885.62 699.9L885.87 442.6L886.12 699.2L886.37 441.9L886.62 700.0L886.87 442.4L887.12 700.3L887.37 442.8L887.62 700.5L887.87 442.8L888.12 698.7L888.37 442.4L888.62 700.2L888.87 442.0L889.12 700.1L889.37 442.0L889.62 700.0L889.87 442.5L890.12 700.4L890.37 441.9L890.62 699.3L890.87 442.2L891.12 700.8L891.37 443.2L891.62 699.3L891.87 442.8L892.12 699.8L892.37 442.5L892.62 699.5L892.87 442.5L893.12 699.7L893.37 442.3L893.62 699.6L893.87 441.8L894.12 699.8L894.37 442.5L894.62 699.8L894.87 442.3L895.12 698.8L895.37 442.3L895.62 699.3L895.87 441.9L896.12 699.5L896.37 442.3L896.62 699.8L896.87 442.4L897.12 699.6L897.37 441.6L897.62 699.7L897.87 442.6L898.12 699.8L898.37 442.6L898.62 700.1L898.87 442.5L899.12 699.8L899.37 442.0L899.62 699.7L899.87 442.5L900.12 700.1L900.37 442.2L900.62 701.0L900.87 442.5L901.12 699.8L901.37 441.6L901.62 700.0L901.87 442.1L902.12 700.5L902.37 441.8L902.62 699.5L902.87 442.3L903.12 700.0L903.37 441.8L903.62 699.7L903.87 442.2L904.12 699.1L904.37 441.3L904.62 699.6L904.87 442.9L905.12 699.4L905.37 442.7L905.62 699.6L905.87 442.1L906.12 699.4L906.37 441.8L906.62 699.5L906.87 442.1L907.12 700.1L907.37 442.2L907.62 699.5L907.87 442.2L908.12 699.9L908.37 442.1L908.62 699.6L908.87 442.6L909.12 699.7L909.37 442.8L909.62 700.5L909.87 442.5L910.12 699.9L910.37 442.1L910.62 700.4L910.87 443.5L911.12 699.4L911.37 442.3L911.62 699.5L911.87 442.4L912.12 699.5L912.37 441.6L912.62 700.0L912.87 441.9L913.12 700.2L913.37 442.5L913.62 700.1L913.87 442.3L914.12 700.2L914.37 441.5L914.62 699.6L914.87 441.7L915.12 699.6L915.37 441.4L915.62 700.4L915.87 442.1L916.12 699.4L916.37 442.2L916.62 700.4L916.87 442.4L917.12 700.0L917.37 441.7L917.62 699.6L917.87 441.7L918.12 699.5L918.37 442.7L918.62 700.4L918.87 442.7L919.12 699.5L919.37 441.7L919.62 699.6L919.87 442.4L920.12 699.9L920.37 442.0L920.62 699.6L920.87 442.0L921.12 700.4L921.37 442.6L921.62 699.8L921.87 441.7L922.12 699.6L922.37 442.4L922.62 699.5L922.87 443.2L923.12 700.1L923.37 442.8L923.62 699.7L923.87 442.4L924.12 700.2L924.37 442.4L924.62 699.4L924.87 441.8L925.12 699.5L925.37 441.0L925.62 700.1L925.87 442.4L926.12 699.2L926.37 442.0L926.62 700.2L926.87 442.9L927.12 700.0L927.37 442.8L927.62 698.5L927.87 443.5L928.12 700.1L928.37 441.8L928.62 700.2L928.87 443.0L929.12 699.9L929.37 442.5L929.62 699.3L929.87 443.1L930.12 700.0L930.37 442.7L930.62 699.6L930.87 442.6L931.12 699.9L931.37 442.1L931.62 699.7L931.87 441.7L932.12 700.0L932.37 441.8L932.62 699.0L932.87 442.3L933.12 699.5L933.37 442.5L933.62 700.3L933.87 441.9L934.12 699.5L934.37 441.8L934.62 699.5L934.87 442.1L935.12 700.4L935.37 442.1L935.62 700.1L935.87 442.3L936.12 699.7L936.37 441.6L936.62 699.2L936.87 441.7L937.12 699.8L937.37 442.3L937.62 700.3L937.87 442.8L938.12 699.6L938.37 442.7L938.62 699.6L938.87 442.9L939.12 699.9L939.37 442.5L939.62 699.6L939.87 441.9L940.12 699.9L940.37 442.4L940.62 700.2L940.87 441.9L941.12 699.5L941.37 442.2L941.62 699.2L941.87 443.0L942.12 699.5L942.37 443.8L942.62 699.8L942.87 441.9L943.12 700.3L943.37 442.6L943.62 699.9L943.87 442.0L944.12 699.5L944.37 442.3L944.62 700.8L944.87 442.4L945.12 700.2L945.37 442.0L945.62 698.9L945.87 441.8L946.12 699.1L946.37 441.9L946.62 699.5L946.87 442.5L947.12 699.3L947.37 441.6L947.62 699.2L947.87 442.7L948.12 699.3L948.37 441.9L948.62 699.6L948.87 442.4L949.12 699.5L949.37 442.0L949.62 700.4L949.87 442.1L950.12 699.9L950.37 442.2L950.62 699.5L950.87 442.4L951.12 699.6L951.37 442.8L951.62 699.8L951.87 443.0" fill="none" stroke="#0072bd" stroke-width="0.65" stroke-linejoin="round"/><path d="M312.4 684V700.5" stroke="#fff" stroke-width="0.9" fill="none"/><path d="M312.4 522V527M312.4 610.8V611.8" stroke="#fff" stroke-opacity="0.55" stroke-width="1" fill="none"/><path d="M415.9 460.5V484.7M437.2 516.5V538.9M534.7 442.7V699.1M541.9 503.4V570.1M451.9 581.3V698.9M491.2 570.1V616.7M495.8 570.1V609.8M502.4 570.1V616.7M507.0 570.1V611.7M460.3 481.0V555.7M471.5 555.7V630.4M627.3 443.7V697.6M631.0 499.7V630.4M649.1 507.2V570.1M655.3 442.7V471.7M593.7 650.4V698.9M660.0 481.0V593.0M694.5 442.7V555.7M873.0 442.7V525.8M873.0 622.3V698.9" stroke="#fff" stroke-opacity="0.5" stroke-width="0.8" fill="none"/>
<text x="82.8" y="742.3" font-size="20" text-anchor="middle">0</text>
<text x="191.8" y="742.3" font-size="20" text-anchor="middle">3</text>
<text x="299.8" y="742.3" font-size="20" text-anchor="middle">6</text>
<text x="408.8" y="742.3" font-size="20" text-anchor="middle">9</text>
<text x="515.6" y="742.3" font-size="20" text-anchor="middle">12</text>
<text x="624.6" y="742.3" font-size="20" text-anchor="middle">15</text>
<text x="732.6" y="742.3" font-size="20" text-anchor="middle">18</text>
<text x="841.6" y="742.3" font-size="20" text-anchor="middle">21</text>
<text x="950.1" y="742.3" font-size="20" text-anchor="middle">24</text>
<text x="69.6" y="434.9" font-size="20" text-anchor="end">200</text>
<text x="69.6" y="506.9" font-size="20" text-anchor="end">100</text>
<text x="69.6" y="577.9" font-size="20" text-anchor="end">0</text>
<text x="69.6" y="649.9" font-size="20" text-anchor="end">-100</text>
<text x="69.6" y="720.9" font-size="20" text-anchor="end">-200</text>
<text transform="translate(496.7 17)" font-size="22.2" font-weight="bold" fill="#000" text-anchor="middle">NWC20240115.txt</text>
<text x="496.8" y="771.7" font-size="22" text-anchor="middle">Time (hours after midnight UTC)</text>
<text transform="translate(17.5 182) rotate(-90)" font-size="22" text-anchor="middle">Amplitude (dB)</text>
<text transform="translate(17.5 579.4) rotate(-90)" font-size="22" text-anchor="middle">Phase (degrees)</text>
</svg>
</body></html>
